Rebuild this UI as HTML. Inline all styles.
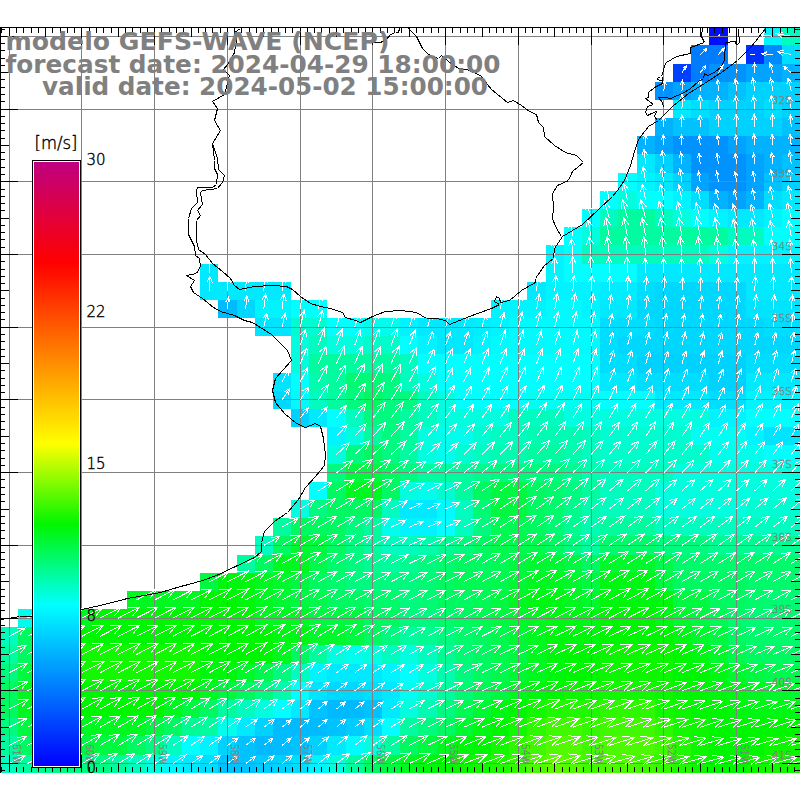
<!DOCTYPE html>
<html><head><meta charset="utf-8"><title>modelo GEFS-WAVE (NCEP)</title>
<style>html,body{margin:0;padding:0;background:#fff;width:800px;height:800px;overflow:hidden}svg{display:block}text{font-family:"Liberation Sans","DejaVu Sans",sans-serif}.t{font-family:"DejaVu Sans","Liberation Sans",sans-serif;font-weight:bold;font-size:24.3px;fill:#808080}.g,.k{font-family:"DejaVu Sans Light","DejaVu Sans","Liberation Sans",sans-serif;font-weight:200}.g{fill:#808080;font-size:10.6px;stroke:#808080;stroke-width:.3px}.k{fill:#000;font-size:15px;stroke:#000;stroke-width:.4px}</style></head><body>
<svg width="800" height="800" viewBox="0 0 800 800">
<rect width="800" height="800" fill="#fff"/>
<g shape-rendering="crispEdges">
<rect x="709" y="28" width="19" height="17" fill="#0010ff"/>
<rect x="764" y="28" width="18" height="17" fill="#00f4ff"/>
<rect x="782" y="28" width="18" height="17" fill="#00fdbf"/>
<rect x="691" y="45" width="37" height="19" fill="#007cff"/>
<rect x="746" y="45" width="18" height="19" fill="#0030ff"/>
<rect x="764" y="45" width="18" height="19" fill="#008aff"/>
<rect x="782" y="45" width="18" height="19" fill="#00deff"/>
<rect x="673" y="64" width="18" height="18" fill="#0040ff"/>
<rect x="691" y="64" width="18" height="18" fill="#007cff"/>
<rect x="709" y="64" width="37" height="18" fill="#0093ff"/>
<rect x="746" y="64" width="36" height="18" fill="#00a3ff"/>
<rect x="782" y="64" width="18" height="18" fill="#00b2ff"/>
<rect x="655" y="82" width="18" height="18" fill="#0093ff"/>
<rect x="673" y="82" width="18" height="18" fill="#00a3ff"/>
<rect x="691" y="82" width="37" height="18" fill="#00b2ff"/>
<rect x="728" y="82" width="18" height="18" fill="#00c2ff"/>
<rect x="746" y="82" width="54" height="18" fill="#00d2ff"/>
<rect x="673" y="100" width="18" height="18" fill="#00e9ff"/>
<rect x="691" y="100" width="18" height="18" fill="#00deff"/>
<rect x="709" y="100" width="55" height="18" fill="#00d2ff"/>
<rect x="764" y="100" width="18" height="18" fill="#00deff"/>
<rect x="782" y="100" width="18" height="18" fill="#00d2ff"/>
<rect x="655" y="118" width="18" height="18" fill="#00b2ff"/>
<rect x="673" y="118" width="36" height="18" fill="#00c2ff"/>
<rect x="709" y="118" width="73" height="18" fill="#00d2ff"/>
<rect x="782" y="118" width="18" height="18" fill="#00c2ff"/>
<rect x="637" y="136" width="18" height="18" fill="#00b2ff"/>
<rect x="655" y="136" width="18" height="18" fill="#00a3ff"/>
<rect x="673" y="136" width="55" height="18" fill="#0093ff"/>
<rect x="728" y="136" width="18" height="18" fill="#00a3ff"/>
<rect x="746" y="136" width="54" height="18" fill="#00b2ff"/>
<rect x="637" y="154" width="18" height="19" fill="#00e9ff"/>
<rect x="655" y="154" width="18" height="19" fill="#00d2ff"/>
<rect x="673" y="154" width="18" height="19" fill="#00b2ff"/>
<rect x="691" y="154" width="55" height="19" fill="#0093ff"/>
<rect x="746" y="154" width="18" height="19" fill="#00a3ff"/>
<rect x="764" y="154" width="18" height="19" fill="#00b2ff"/>
<rect x="782" y="154" width="18" height="19" fill="#00c2ff"/>
<rect x="618" y="173" width="19" height="18" fill="#00ffff"/>
<rect x="637" y="173" width="18" height="18" fill="#00f4ff"/>
<rect x="655" y="173" width="18" height="18" fill="#00e9ff"/>
<rect x="673" y="173" width="18" height="18" fill="#00d2ff"/>
<rect x="691" y="173" width="18" height="18" fill="#00a3ff"/>
<rect x="709" y="173" width="37" height="18" fill="#0093ff"/>
<rect x="746" y="173" width="18" height="18" fill="#00a3ff"/>
<rect x="764" y="173" width="18" height="18" fill="#00c2ff"/>
<rect x="782" y="173" width="18" height="18" fill="#00d2ff"/>
<rect x="600" y="191" width="18" height="18" fill="#00ffff"/>
<rect x="618" y="191" width="19" height="18" fill="#00fedf"/>
<rect x="637" y="191" width="36" height="18" fill="#00ffff"/>
<rect x="673" y="191" width="18" height="18" fill="#00f4ff"/>
<rect x="691" y="191" width="18" height="18" fill="#00deff"/>
<rect x="709" y="191" width="19" height="18" fill="#00b2ff"/>
<rect x="728" y="191" width="18" height="18" fill="#00a3ff"/>
<rect x="746" y="191" width="18" height="18" fill="#00b2ff"/>
<rect x="764" y="191" width="18" height="18" fill="#00deff"/>
<rect x="782" y="191" width="18" height="18" fill="#00e9ff"/>
<rect x="582" y="209" width="18" height="18" fill="#00ffff"/>
<rect x="600" y="209" width="18" height="18" fill="#00fdbf"/>
<rect x="618" y="209" width="37" height="18" fill="#00fc9f"/>
<rect x="655" y="209" width="18" height="18" fill="#00fdbf"/>
<rect x="673" y="209" width="18" height="18" fill="#00fedf"/>
<rect x="691" y="209" width="18" height="18" fill="#00ffff"/>
<rect x="709" y="209" width="19" height="18" fill="#00f4ff"/>
<rect x="728" y="209" width="36" height="18" fill="#00e9ff"/>
<rect x="764" y="209" width="18" height="18" fill="#00f4ff"/>
<rect x="782" y="209" width="18" height="18" fill="#00ffff"/>
<rect x="564" y="227" width="18" height="18" fill="#00ffff"/>
<rect x="582" y="227" width="18" height="18" fill="#00fedf"/>
<rect x="600" y="227" width="128" height="18" fill="#00fc9f"/>
<rect x="728" y="227" width="36" height="18" fill="#00fdbf"/>
<rect x="764" y="227" width="36" height="18" fill="#00ffff"/>
<rect x="546" y="245" width="18" height="19" fill="#00f4ff"/>
<rect x="564" y="245" width="18" height="19" fill="#00ffff"/>
<rect x="582" y="245" width="127" height="19" fill="#00fdbf"/>
<rect x="709" y="245" width="19" height="19" fill="#00fedf"/>
<rect x="728" y="245" width="72" height="19" fill="#00f4ff"/>
<rect x="200" y="264" width="18" height="18" fill="#00e9ff"/>
<rect x="546" y="264" width="18" height="18" fill="#00f4ff"/>
<rect x="564" y="264" width="73" height="18" fill="#00ffff"/>
<rect x="637" y="264" width="163" height="18" fill="#00e9ff"/>
<rect x="200" y="282" width="91" height="18" fill="#00e9ff"/>
<rect x="527" y="282" width="19" height="18" fill="#00e9ff"/>
<rect x="546" y="282" width="54" height="18" fill="#00f4ff"/>
<rect x="600" y="282" width="37" height="18" fill="#00edff"/>
<rect x="637" y="282" width="18" height="18" fill="#00deff"/>
<rect x="655" y="282" width="91" height="18" fill="#00d7ff"/>
<rect x="746" y="282" width="54" height="18" fill="#00e9ff"/>
<rect x="218" y="300" width="19" height="18" fill="#00bcff"/>
<rect x="237" y="300" width="18" height="18" fill="#00d7ff"/>
<rect x="255" y="300" width="36" height="18" fill="#00f4ff"/>
<rect x="291" y="300" width="36" height="18" fill="#00ffff"/>
<rect x="491" y="300" width="55" height="18" fill="#00f4ff"/>
<rect x="546" y="300" width="36" height="18" fill="#00fbff"/>
<rect x="582" y="300" width="18" height="18" fill="#00f4ff"/>
<rect x="600" y="300" width="37" height="18" fill="#00e9ff"/>
<rect x="637" y="300" width="109" height="18" fill="#00d7ff"/>
<rect x="746" y="300" width="54" height="18" fill="#00e4ff"/>
<rect x="255" y="318" width="36" height="18" fill="#00e4ff"/>
<rect x="291" y="318" width="36" height="18" fill="#00fdd2"/>
<rect x="327" y="318" width="37" height="18" fill="#00ffff"/>
<rect x="364" y="318" width="36" height="18" fill="#00feec"/>
<rect x="400" y="318" width="18" height="18" fill="#00f4ff"/>
<rect x="418" y="318" width="55" height="18" fill="#00e9ff"/>
<rect x="473" y="318" width="18" height="18" fill="#00efff"/>
<rect x="491" y="318" width="18" height="18" fill="#00f4ff"/>
<rect x="509" y="318" width="91" height="18" fill="#00fbff"/>
<rect x="600" y="318" width="55" height="18" fill="#00deff"/>
<rect x="655" y="318" width="109" height="18" fill="#00d7ff"/>
<rect x="764" y="318" width="36" height="18" fill="#00deff"/>
<rect x="291" y="336" width="18" height="18" fill="#00fedf"/>
<rect x="309" y="336" width="18" height="18" fill="#00fdbf"/>
<rect x="327" y="336" width="37" height="18" fill="#00fedf"/>
<rect x="364" y="336" width="36" height="18" fill="#00fdcc"/>
<rect x="400" y="336" width="18" height="18" fill="#00ffff"/>
<rect x="418" y="336" width="19" height="18" fill="#00f4ff"/>
<rect x="437" y="336" width="36" height="18" fill="#00e9ff"/>
<rect x="473" y="336" width="18" height="18" fill="#00f4ff"/>
<rect x="491" y="336" width="109" height="18" fill="#00fbff"/>
<rect x="600" y="336" width="18" height="18" fill="#00deff"/>
<rect x="618" y="336" width="182" height="18" fill="#00d7ff"/>
<rect x="291" y="354" width="18" height="19" fill="#00fedf"/>
<rect x="309" y="354" width="91" height="19" fill="#00fc9f"/>
<rect x="400" y="354" width="18" height="19" fill="#00fdbf"/>
<rect x="418" y="354" width="182" height="19" fill="#00ffff"/>
<rect x="600" y="354" width="37" height="19" fill="#00deff"/>
<rect x="637" y="354" width="109" height="19" fill="#00d2ff"/>
<rect x="746" y="354" width="54" height="19" fill="#00deff"/>
<rect x="273" y="373" width="18" height="18" fill="#00e4ff"/>
<rect x="291" y="373" width="18" height="18" fill="#00ffff"/>
<rect x="309" y="373" width="18" height="18" fill="#00fcac"/>
<rect x="327" y="373" width="19" height="18" fill="#00fc9f"/>
<rect x="346" y="373" width="36" height="18" fill="#00fa73"/>
<rect x="382" y="373" width="18" height="18" fill="#00fa80"/>
<rect x="400" y="373" width="18" height="18" fill="#00fdbf"/>
<rect x="418" y="373" width="19" height="18" fill="#00fedf"/>
<rect x="437" y="373" width="163" height="18" fill="#00ffff"/>
<rect x="600" y="373" width="37" height="18" fill="#00e9ff"/>
<rect x="637" y="373" width="72" height="18" fill="#00deff"/>
<rect x="709" y="373" width="37" height="18" fill="#00d2ff"/>
<rect x="746" y="373" width="54" height="18" fill="#00e9ff"/>
<rect x="273" y="391" width="18" height="18" fill="#00d9ff"/>
<rect x="291" y="391" width="18" height="18" fill="#00fbff"/>
<rect x="309" y="391" width="18" height="18" fill="#00fdbf"/>
<rect x="327" y="391" width="19" height="18" fill="#00fc9f"/>
<rect x="346" y="391" width="18" height="18" fill="#00fa80"/>
<rect x="364" y="391" width="18" height="18" fill="#00f960"/>
<rect x="382" y="391" width="36" height="18" fill="#00fa80"/>
<rect x="418" y="391" width="19" height="18" fill="#00fdbf"/>
<rect x="437" y="391" width="18" height="18" fill="#00fedf"/>
<rect x="455" y="391" width="72" height="18" fill="#00ffff"/>
<rect x="527" y="391" width="73" height="18" fill="#00fff2"/>
<rect x="600" y="391" width="55" height="18" fill="#00ffff"/>
<rect x="655" y="391" width="54" height="18" fill="#00e9ff"/>
<rect x="709" y="391" width="37" height="18" fill="#00deff"/>
<rect x="746" y="391" width="54" height="18" fill="#00f4ff"/>
<rect x="291" y="409" width="18" height="18" fill="#00d2ff"/>
<rect x="309" y="409" width="18" height="18" fill="#00e9ff"/>
<rect x="327" y="409" width="19" height="18" fill="#00ffff"/>
<rect x="346" y="409" width="18" height="18" fill="#00fdbf"/>
<rect x="364" y="409" width="36" height="18" fill="#00fa80"/>
<rect x="400" y="409" width="18" height="18" fill="#00fc9f"/>
<rect x="418" y="409" width="19" height="18" fill="#00fdbf"/>
<rect x="437" y="409" width="72" height="18" fill="#00fedf"/>
<rect x="509" y="409" width="55" height="18" fill="#00fdbf"/>
<rect x="564" y="409" width="145" height="18" fill="#00fedf"/>
<rect x="709" y="409" width="37" height="18" fill="#00f4ff"/>
<rect x="746" y="409" width="54" height="18" fill="#00ffff"/>
<rect x="327" y="427" width="19" height="18" fill="#00f4ff"/>
<rect x="346" y="427" width="18" height="18" fill="#00fedf"/>
<rect x="364" y="427" width="18" height="18" fill="#00fc9f"/>
<rect x="382" y="427" width="18" height="18" fill="#00fa80"/>
<rect x="400" y="427" width="18" height="18" fill="#00fc9f"/>
<rect x="418" y="427" width="19" height="18" fill="#00fedf"/>
<rect x="437" y="427" width="36" height="18" fill="#00feec"/>
<rect x="473" y="427" width="18" height="18" fill="#00fdd2"/>
<rect x="491" y="427" width="36" height="18" fill="#00fdbf"/>
<rect x="527" y="427" width="55" height="18" fill="#00fcb3"/>
<rect x="582" y="427" width="18" height="18" fill="#00fdbf"/>
<rect x="600" y="427" width="91" height="18" fill="#00fdd2"/>
<rect x="691" y="427" width="55" height="18" fill="#00fff2"/>
<rect x="746" y="427" width="18" height="18" fill="#00f4ff"/>
<rect x="764" y="427" width="36" height="18" fill="#00e4ff"/>
<rect x="327" y="445" width="19" height="19" fill="#00fedf"/>
<rect x="346" y="445" width="18" height="19" fill="#00fa80"/>
<rect x="364" y="445" width="18" height="19" fill="#00f960"/>
<rect x="382" y="445" width="18" height="19" fill="#00fa80"/>
<rect x="400" y="445" width="18" height="19" fill="#00fc9f"/>
<rect x="418" y="445" width="19" height="19" fill="#00fedf"/>
<rect x="437" y="445" width="18" height="19" fill="#00feec"/>
<rect x="455" y="445" width="18" height="19" fill="#00fdd2"/>
<rect x="473" y="445" width="18" height="19" fill="#00fdbf"/>
<rect x="491" y="445" width="18" height="19" fill="#00fcb3"/>
<rect x="509" y="445" width="18" height="19" fill="#00fcac"/>
<rect x="527" y="445" width="37" height="19" fill="#00fc9f"/>
<rect x="564" y="445" width="18" height="19" fill="#00fcac"/>
<rect x="582" y="445" width="18" height="19" fill="#00fdbf"/>
<rect x="600" y="445" width="109" height="19" fill="#00fdcc"/>
<rect x="709" y="445" width="55" height="19" fill="#00feec"/>
<rect x="764" y="445" width="36" height="19" fill="#00ffff"/>
<rect x="327" y="464" width="19" height="18" fill="#00fa80"/>
<rect x="346" y="464" width="36" height="18" fill="#00f840"/>
<rect x="382" y="464" width="18" height="18" fill="#00f960"/>
<rect x="400" y="464" width="18" height="18" fill="#00fa80"/>
<rect x="418" y="464" width="55" height="18" fill="#00fc9f"/>
<rect x="473" y="464" width="18" height="18" fill="#00fb8c"/>
<rect x="491" y="464" width="73" height="18" fill="#00fa80"/>
<rect x="564" y="464" width="18" height="18" fill="#00fb93"/>
<rect x="582" y="464" width="18" height="18" fill="#00fcac"/>
<rect x="600" y="464" width="73" height="18" fill="#00fdbf"/>
<rect x="673" y="464" width="127" height="18" fill="#00fedf"/>
<rect x="309" y="482" width="18" height="18" fill="#00ffff"/>
<rect x="327" y="482" width="19" height="18" fill="#00f960"/>
<rect x="346" y="482" width="36" height="18" fill="#00f720"/>
<rect x="382" y="482" width="18" height="18" fill="#00f960"/>
<rect x="400" y="482" width="18" height="18" fill="#00fedf"/>
<rect x="418" y="482" width="19" height="18" fill="#00feec"/>
<rect x="437" y="482" width="18" height="18" fill="#00fdd2"/>
<rect x="455" y="482" width="18" height="18" fill="#00fc9f"/>
<rect x="473" y="482" width="18" height="18" fill="#00f960"/>
<rect x="491" y="482" width="36" height="18" fill="#00f840"/>
<rect x="527" y="482" width="19" height="18" fill="#00f960"/>
<rect x="546" y="482" width="18" height="18" fill="#00fa6c"/>
<rect x="564" y="482" width="18" height="18" fill="#00fa80"/>
<rect x="582" y="482" width="18" height="18" fill="#00fc9f"/>
<rect x="600" y="482" width="55" height="18" fill="#00fdbf"/>
<rect x="655" y="482" width="145" height="18" fill="#00fedf"/>
<rect x="291" y="500" width="18" height="18" fill="#00fedf"/>
<rect x="309" y="500" width="18" height="18" fill="#00fa80"/>
<rect x="327" y="500" width="55" height="18" fill="#00f960"/>
<rect x="382" y="500" width="18" height="18" fill="#00fdbf"/>
<rect x="400" y="500" width="37" height="18" fill="#00e9ff"/>
<rect x="437" y="500" width="18" height="18" fill="#00fbff"/>
<rect x="455" y="500" width="18" height="18" fill="#00fdbf"/>
<rect x="473" y="500" width="18" height="18" fill="#00fa73"/>
<rect x="491" y="500" width="36" height="18" fill="#00f840"/>
<rect x="527" y="500" width="19" height="18" fill="#00f960"/>
<rect x="546" y="500" width="18" height="18" fill="#00fa6c"/>
<rect x="564" y="500" width="18" height="18" fill="#00fb8c"/>
<rect x="582" y="500" width="18" height="18" fill="#00fcac"/>
<rect x="600" y="500" width="55" height="18" fill="#00fdbf"/>
<rect x="655" y="500" width="91" height="18" fill="#00fedf"/>
<rect x="746" y="500" width="54" height="18" fill="#00fdd2"/>
<rect x="273" y="518" width="18" height="18" fill="#00fc9f"/>
<rect x="291" y="518" width="55" height="18" fill="#00f960"/>
<rect x="346" y="518" width="18" height="18" fill="#00fa80"/>
<rect x="364" y="518" width="18" height="18" fill="#00fc9f"/>
<rect x="382" y="518" width="18" height="18" fill="#00feec"/>
<rect x="400" y="518" width="37" height="18" fill="#00f4ff"/>
<rect x="437" y="518" width="18" height="18" fill="#00ffff"/>
<rect x="455" y="518" width="18" height="18" fill="#00fdbf"/>
<rect x="473" y="518" width="18" height="18" fill="#00fa80"/>
<rect x="491" y="518" width="36" height="18" fill="#00f953"/>
<rect x="527" y="518" width="19" height="18" fill="#00f960"/>
<rect x="546" y="518" width="18" height="18" fill="#00fa73"/>
<rect x="564" y="518" width="18" height="18" fill="#00fb93"/>
<rect x="582" y="518" width="18" height="18" fill="#00fcb3"/>
<rect x="600" y="518" width="55" height="18" fill="#00fc9f"/>
<rect x="655" y="518" width="145" height="18" fill="#00fdbf"/>
<rect x="255" y="536" width="18" height="19" fill="#00fdbf"/>
<rect x="273" y="536" width="18" height="19" fill="#00f960"/>
<rect x="291" y="536" width="18" height="19" fill="#00f833"/>
<rect x="309" y="536" width="18" height="19" fill="#00f840"/>
<rect x="327" y="536" width="19" height="19" fill="#00f960"/>
<rect x="346" y="536" width="18" height="19" fill="#00fa80"/>
<rect x="364" y="536" width="18" height="19" fill="#00fc9f"/>
<rect x="382" y="536" width="36" height="19" fill="#00fdbf"/>
<rect x="418" y="536" width="19" height="19" fill="#00fcac"/>
<rect x="437" y="536" width="18" height="19" fill="#00fb93"/>
<rect x="455" y="536" width="18" height="19" fill="#00fa80"/>
<rect x="473" y="536" width="18" height="19" fill="#00f960"/>
<rect x="491" y="536" width="55" height="19" fill="#00f94c"/>
<rect x="546" y="536" width="18" height="19" fill="#00f960"/>
<rect x="564" y="536" width="18" height="19" fill="#00fa80"/>
<rect x="582" y="536" width="18" height="19" fill="#00fc9f"/>
<rect x="600" y="536" width="55" height="19" fill="#00fa6c"/>
<rect x="655" y="536" width="54" height="19" fill="#00fa80"/>
<rect x="709" y="536" width="91" height="19" fill="#00fb93"/>
<rect x="237" y="555" width="18" height="18" fill="#00fc9f"/>
<rect x="255" y="555" width="18" height="18" fill="#00f960"/>
<rect x="273" y="555" width="36" height="18" fill="#00f720"/>
<rect x="309" y="555" width="18" height="18" fill="#00f94c"/>
<rect x="327" y="555" width="19" height="18" fill="#00fa6c"/>
<rect x="346" y="555" width="18" height="18" fill="#00fa80"/>
<rect x="364" y="555" width="18" height="18" fill="#00fb93"/>
<rect x="382" y="555" width="18" height="18" fill="#00fc9f"/>
<rect x="400" y="555" width="18" height="18" fill="#00fb93"/>
<rect x="418" y="555" width="19" height="18" fill="#00fa80"/>
<rect x="437" y="555" width="18" height="18" fill="#00fa6c"/>
<rect x="455" y="555" width="36" height="18" fill="#00f960"/>
<rect x="491" y="555" width="18" height="18" fill="#00f953"/>
<rect x="509" y="555" width="18" height="18" fill="#00f840"/>
<rect x="527" y="555" width="37" height="18" fill="#00f833"/>
<rect x="564" y="555" width="18" height="18" fill="#00f840"/>
<rect x="582" y="555" width="18" height="18" fill="#00f960"/>
<rect x="600" y="555" width="55" height="18" fill="#00f82d"/>
<rect x="655" y="555" width="18" height="18" fill="#00f94c"/>
<rect x="673" y="555" width="127" height="18" fill="#00fa6c"/>
<rect x="200" y="573" width="18" height="18" fill="#00f840"/>
<rect x="218" y="573" width="37" height="18" fill="#00f60d"/>
<rect x="255" y="573" width="18" height="18" fill="#00f720"/>
<rect x="273" y="573" width="18" height="18" fill="#00f82d"/>
<rect x="291" y="573" width="18" height="18" fill="#00f840"/>
<rect x="309" y="573" width="18" height="18" fill="#00f960"/>
<rect x="327" y="573" width="19" height="18" fill="#00fa6c"/>
<rect x="346" y="573" width="72" height="18" fill="#00fa80"/>
<rect x="418" y="573" width="19" height="18" fill="#00fa73"/>
<rect x="437" y="573" width="18" height="18" fill="#00f960"/>
<rect x="455" y="573" width="36" height="18" fill="#00f953"/>
<rect x="491" y="573" width="18" height="18" fill="#00f94c"/>
<rect x="509" y="573" width="18" height="18" fill="#00f833"/>
<rect x="527" y="573" width="37" height="18" fill="#00f720"/>
<rect x="564" y="573" width="18" height="18" fill="#00f82d"/>
<rect x="582" y="573" width="18" height="18" fill="#00f840"/>
<rect x="600" y="573" width="55" height="18" fill="#00f713"/>
<rect x="655" y="573" width="18" height="18" fill="#00f840"/>
<rect x="673" y="573" width="73" height="18" fill="#00f960"/>
<rect x="746" y="573" width="54" height="18" fill="#00fa6c"/>
<rect x="127" y="591" width="73" height="18" fill="#00f720"/>
<rect x="200" y="591" width="37" height="18" fill="#00f600"/>
<rect x="237" y="591" width="18" height="18" fill="#00f60d"/>
<rect x="255" y="591" width="18" height="18" fill="#00f720"/>
<rect x="273" y="591" width="18" height="18" fill="#00f833"/>
<rect x="291" y="591" width="18" height="18" fill="#00f840"/>
<rect x="309" y="591" width="18" height="18" fill="#00f94c"/>
<rect x="327" y="591" width="37" height="18" fill="#00f960"/>
<rect x="364" y="591" width="36" height="18" fill="#00fa6c"/>
<rect x="400" y="591" width="18" height="18" fill="#00fa80"/>
<rect x="418" y="591" width="19" height="18" fill="#00fa73"/>
<rect x="437" y="591" width="36" height="18" fill="#00f960"/>
<rect x="473" y="591" width="18" height="18" fill="#00f953"/>
<rect x="491" y="591" width="18" height="18" fill="#00f840"/>
<rect x="509" y="591" width="18" height="18" fill="#00f720"/>
<rect x="527" y="591" width="37" height="18" fill="#00f713"/>
<rect x="564" y="591" width="18" height="18" fill="#00f720"/>
<rect x="582" y="591" width="18" height="18" fill="#00f82d"/>
<rect x="600" y="591" width="73" height="18" fill="#00f60d"/>
<rect x="673" y="591" width="36" height="18" fill="#00f840"/>
<rect x="709" y="591" width="37" height="18" fill="#00f960"/>
<rect x="746" y="591" width="18" height="18" fill="#00fa6c"/>
<rect x="764" y="591" width="36" height="18" fill="#00fa73"/>
<rect x="18" y="609" width="18" height="18" fill="#00feec"/>
<rect x="36" y="609" width="19" height="18" fill="#00fa80"/>
<rect x="55" y="609" width="18" height="18" fill="#00f840"/>
<rect x="73" y="609" width="18" height="18" fill="#00f720"/>
<rect x="91" y="609" width="164" height="18" fill="#00f600"/>
<rect x="255" y="609" width="54" height="18" fill="#00f720"/>
<rect x="309" y="609" width="55" height="18" fill="#00f840"/>
<rect x="364" y="609" width="36" height="18" fill="#00f960"/>
<rect x="400" y="609" width="37" height="18" fill="#00fa80"/>
<rect x="437" y="609" width="18" height="18" fill="#00fa6c"/>
<rect x="455" y="609" width="18" height="18" fill="#00f960"/>
<rect x="473" y="609" width="18" height="18" fill="#00f953"/>
<rect x="491" y="609" width="18" height="18" fill="#00f840"/>
<rect x="509" y="609" width="18" height="18" fill="#00f82d"/>
<rect x="527" y="609" width="19" height="18" fill="#00f720"/>
<rect x="546" y="609" width="54" height="18" fill="#00f713"/>
<rect x="600" y="609" width="55" height="18" fill="#00f600"/>
<rect x="655" y="609" width="18" height="18" fill="#00f713"/>
<rect x="673" y="609" width="18" height="18" fill="#00f82d"/>
<rect x="691" y="609" width="18" height="18" fill="#00f840"/>
<rect x="709" y="609" width="19" height="18" fill="#00f953"/>
<rect x="728" y="609" width="18" height="18" fill="#00fa6c"/>
<rect x="746" y="609" width="36" height="18" fill="#00fa73"/>
<rect x="782" y="609" width="18" height="18" fill="#00fa6c"/>
<rect x="0" y="627" width="18" height="18" fill="#00fdbf"/>
<rect x="18" y="627" width="18" height="18" fill="#00f960"/>
<rect x="36" y="627" width="19" height="18" fill="#00f82d"/>
<rect x="55" y="627" width="18" height="18" fill="#00f60d"/>
<rect x="73" y="627" width="200" height="18" fill="#00f600"/>
<rect x="273" y="627" width="36" height="18" fill="#00f713"/>
<rect x="309" y="627" width="37" height="18" fill="#00f82d"/>
<rect x="346" y="627" width="18" height="18" fill="#00f840"/>
<rect x="364" y="627" width="18" height="18" fill="#00f960"/>
<rect x="382" y="627" width="18" height="18" fill="#00fa80"/>
<rect x="400" y="627" width="18" height="18" fill="#00fc9f"/>
<rect x="418" y="627" width="19" height="18" fill="#00fb93"/>
<rect x="437" y="627" width="18" height="18" fill="#00fa80"/>
<rect x="455" y="627" width="18" height="18" fill="#00fa6c"/>
<rect x="473" y="627" width="18" height="18" fill="#00f960"/>
<rect x="491" y="627" width="18" height="18" fill="#00f94c"/>
<rect x="509" y="627" width="18" height="18" fill="#00f833"/>
<rect x="527" y="627" width="19" height="18" fill="#00f720"/>
<rect x="546" y="627" width="54" height="18" fill="#00f60d"/>
<rect x="600" y="627" width="73" height="18" fill="#00f600"/>
<rect x="673" y="627" width="18" height="18" fill="#00f713"/>
<rect x="691" y="627" width="18" height="18" fill="#00f82d"/>
<rect x="709" y="627" width="19" height="18" fill="#00f840"/>
<rect x="728" y="627" width="18" height="18" fill="#00f960"/>
<rect x="746" y="627" width="54" height="18" fill="#00fa6c"/>
<rect x="0" y="645" width="18" height="19" fill="#00fc9f"/>
<rect x="18" y="645" width="18" height="19" fill="#00f960"/>
<rect x="36" y="645" width="19" height="19" fill="#00f720"/>
<rect x="55" y="645" width="18" height="19" fill="#00f600"/>
<rect x="73" y="645" width="127" height="19" fill="#13f700"/>
<rect x="200" y="645" width="73" height="19" fill="#00f600"/>
<rect x="273" y="645" width="18" height="19" fill="#00f720"/>
<rect x="291" y="645" width="18" height="19" fill="#00f960"/>
<rect x="309" y="645" width="18" height="19" fill="#00fc9f"/>
<rect x="327" y="645" width="19" height="19" fill="#00fedf"/>
<rect x="346" y="645" width="18" height="19" fill="#00feec"/>
<rect x="364" y="645" width="18" height="19" fill="#00fedf"/>
<rect x="382" y="645" width="18" height="19" fill="#00fdbf"/>
<rect x="400" y="645" width="18" height="19" fill="#00fedf"/>
<rect x="418" y="645" width="19" height="19" fill="#00fdbf"/>
<rect x="437" y="645" width="18" height="19" fill="#00fb93"/>
<rect x="455" y="645" width="18" height="19" fill="#00fa73"/>
<rect x="473" y="645" width="18" height="19" fill="#00f960"/>
<rect x="491" y="645" width="18" height="19" fill="#00f94c"/>
<rect x="509" y="645" width="18" height="19" fill="#00f840"/>
<rect x="527" y="645" width="19" height="19" fill="#00f720"/>
<rect x="546" y="645" width="18" height="19" fill="#00f60d"/>
<rect x="564" y="645" width="36" height="19" fill="#00f600"/>
<rect x="600" y="645" width="73" height="19" fill="#0df600"/>
<rect x="673" y="645" width="18" height="19" fill="#00f600"/>
<rect x="691" y="645" width="18" height="19" fill="#00f713"/>
<rect x="709" y="645" width="19" height="19" fill="#00f82d"/>
<rect x="728" y="645" width="18" height="19" fill="#00f94c"/>
<rect x="746" y="645" width="54" height="19" fill="#00f960"/>
<rect x="0" y="664" width="18" height="18" fill="#00fa80"/>
<rect x="18" y="664" width="18" height="18" fill="#00f840"/>
<rect x="36" y="664" width="19" height="18" fill="#00f713"/>
<rect x="55" y="664" width="18" height="18" fill="#00f600"/>
<rect x="73" y="664" width="127" height="18" fill="#13f700"/>
<rect x="200" y="664" width="37" height="18" fill="#00f60d"/>
<rect x="237" y="664" width="18" height="18" fill="#00f82d"/>
<rect x="255" y="664" width="18" height="18" fill="#00f94c"/>
<rect x="273" y="664" width="18" height="18" fill="#00fa80"/>
<rect x="291" y="664" width="18" height="18" fill="#00fdbf"/>
<rect x="309" y="664" width="18" height="18" fill="#00f4ff"/>
<rect x="327" y="664" width="55" height="18" fill="#00e9ff"/>
<rect x="382" y="664" width="18" height="18" fill="#00f4ff"/>
<rect x="400" y="664" width="18" height="18" fill="#00ffff"/>
<rect x="418" y="664" width="19" height="18" fill="#00fedf"/>
<rect x="437" y="664" width="18" height="18" fill="#00fcac"/>
<rect x="455" y="664" width="18" height="18" fill="#00fa80"/>
<rect x="473" y="664" width="18" height="18" fill="#00f960"/>
<rect x="491" y="664" width="18" height="18" fill="#00f94c"/>
<rect x="509" y="664" width="18" height="18" fill="#00f833"/>
<rect x="527" y="664" width="19" height="18" fill="#00f720"/>
<rect x="546" y="664" width="18" height="18" fill="#00f60d"/>
<rect x="564" y="664" width="36" height="18" fill="#00f600"/>
<rect x="600" y="664" width="73" height="18" fill="#0df600"/>
<rect x="673" y="664" width="36" height="18" fill="#00f600"/>
<rect x="709" y="664" width="19" height="18" fill="#00f713"/>
<rect x="728" y="664" width="18" height="18" fill="#00f82d"/>
<rect x="746" y="664" width="18" height="18" fill="#00f840"/>
<rect x="764" y="664" width="36" height="18" fill="#00f94c"/>
<rect x="0" y="682" width="18" height="18" fill="#00f960"/>
<rect x="18" y="682" width="18" height="18" fill="#00f720"/>
<rect x="36" y="682" width="19" height="18" fill="#00f60d"/>
<rect x="55" y="682" width="145" height="18" fill="#00f600"/>
<rect x="200" y="682" width="18" height="18" fill="#00f720"/>
<rect x="218" y="682" width="19" height="18" fill="#00f840"/>
<rect x="237" y="682" width="18" height="18" fill="#00f960"/>
<rect x="255" y="682" width="18" height="18" fill="#00fa80"/>
<rect x="273" y="682" width="18" height="18" fill="#00fcac"/>
<rect x="291" y="682" width="18" height="18" fill="#00ffff"/>
<rect x="309" y="682" width="18" height="18" fill="#00e4ff"/>
<rect x="327" y="682" width="37" height="18" fill="#00d9ff"/>
<rect x="364" y="682" width="18" height="18" fill="#00deff"/>
<rect x="382" y="682" width="18" height="18" fill="#00e9ff"/>
<rect x="400" y="682" width="18" height="18" fill="#00fff2"/>
<rect x="418" y="682" width="19" height="18" fill="#00fdd2"/>
<rect x="437" y="682" width="18" height="18" fill="#00fc9f"/>
<rect x="455" y="682" width="18" height="18" fill="#00fa73"/>
<rect x="473" y="682" width="18" height="18" fill="#00f953"/>
<rect x="491" y="682" width="18" height="18" fill="#00f840"/>
<rect x="509" y="682" width="18" height="18" fill="#00f720"/>
<rect x="527" y="682" width="19" height="18" fill="#00f60d"/>
<rect x="546" y="682" width="18" height="18" fill="#00f600"/>
<rect x="564" y="682" width="36" height="18" fill="#0df600"/>
<rect x="600" y="682" width="55" height="18" fill="#13f700"/>
<rect x="655" y="682" width="18" height="18" fill="#0df600"/>
<rect x="673" y="682" width="36" height="18" fill="#00f600"/>
<rect x="709" y="682" width="19" height="18" fill="#00f60d"/>
<rect x="728" y="682" width="18" height="18" fill="#00f713"/>
<rect x="746" y="682" width="18" height="18" fill="#00f720"/>
<rect x="764" y="682" width="36" height="18" fill="#00f82d"/>
<rect x="0" y="700" width="18" height="18" fill="#00f960"/>
<rect x="18" y="700" width="18" height="18" fill="#00f720"/>
<rect x="36" y="700" width="19" height="18" fill="#00f60d"/>
<rect x="55" y="700" width="109" height="18" fill="#00f600"/>
<rect x="164" y="700" width="18" height="18" fill="#00f720"/>
<rect x="182" y="700" width="18" height="18" fill="#00f840"/>
<rect x="200" y="700" width="18" height="18" fill="#00f960"/>
<rect x="218" y="700" width="19" height="18" fill="#00fc9f"/>
<rect x="237" y="700" width="18" height="18" fill="#00fdbf"/>
<rect x="255" y="700" width="18" height="18" fill="#00fedf"/>
<rect x="273" y="700" width="18" height="18" fill="#00ffff"/>
<rect x="291" y="700" width="18" height="18" fill="#00e9ff"/>
<rect x="309" y="700" width="18" height="18" fill="#00c2ff"/>
<rect x="327" y="700" width="37" height="18" fill="#00b9ff"/>
<rect x="364" y="700" width="18" height="18" fill="#00c2ff"/>
<rect x="382" y="700" width="18" height="18" fill="#00e9ff"/>
<rect x="400" y="700" width="18" height="18" fill="#00fedf"/>
<rect x="418" y="700" width="19" height="18" fill="#00fcb3"/>
<rect x="437" y="700" width="18" height="18" fill="#00fa80"/>
<rect x="455" y="700" width="18" height="18" fill="#00f953"/>
<rect x="473" y="700" width="18" height="18" fill="#00f833"/>
<rect x="491" y="700" width="18" height="18" fill="#00f713"/>
<rect x="509" y="700" width="18" height="18" fill="#00f600"/>
<rect x="527" y="700" width="19" height="18" fill="#13f700"/>
<rect x="546" y="700" width="54" height="18" fill="#20f700"/>
<rect x="600" y="700" width="55" height="18" fill="#2df800"/>
<rect x="655" y="700" width="18" height="18" fill="#13f700"/>
<rect x="673" y="700" width="18" height="18" fill="#0df600"/>
<rect x="691" y="700" width="37" height="18" fill="#00f600"/>
<rect x="728" y="700" width="18" height="18" fill="#00f60d"/>
<rect x="746" y="700" width="54" height="18" fill="#00f713"/>
<rect x="0" y="718" width="18" height="18" fill="#00fa80"/>
<rect x="18" y="718" width="18" height="18" fill="#00f840"/>
<rect x="36" y="718" width="19" height="18" fill="#00f82d"/>
<rect x="55" y="718" width="91" height="18" fill="#00f720"/>
<rect x="146" y="718" width="18" height="18" fill="#00f840"/>
<rect x="164" y="718" width="18" height="18" fill="#00f960"/>
<rect x="182" y="718" width="18" height="18" fill="#00fb93"/>
<rect x="200" y="718" width="18" height="18" fill="#00fc9f"/>
<rect x="218" y="718" width="19" height="18" fill="#00feec"/>
<rect x="237" y="718" width="18" height="18" fill="#00e9ff"/>
<rect x="255" y="718" width="18" height="18" fill="#00d2ff"/>
<rect x="273" y="718" width="18" height="18" fill="#00bcff"/>
<rect x="291" y="718" width="18" height="18" fill="#00b9ff"/>
<rect x="309" y="718" width="18" height="18" fill="#00bcff"/>
<rect x="327" y="718" width="19" height="18" fill="#00c2ff"/>
<rect x="346" y="718" width="18" height="18" fill="#00ccff"/>
<rect x="364" y="718" width="18" height="18" fill="#00deff"/>
<rect x="382" y="718" width="18" height="18" fill="#00ffff"/>
<rect x="400" y="718" width="18" height="18" fill="#00fc9f"/>
<rect x="418" y="718" width="19" height="18" fill="#00fa80"/>
<rect x="437" y="718" width="18" height="18" fill="#00f960"/>
<rect x="455" y="718" width="18" height="18" fill="#00f833"/>
<rect x="473" y="718" width="18" height="18" fill="#00f713"/>
<rect x="491" y="718" width="18" height="18" fill="#00f600"/>
<rect x="509" y="718" width="18" height="18" fill="#13f700"/>
<rect x="527" y="718" width="19" height="18" fill="#2df800"/>
<rect x="546" y="718" width="36" height="18" fill="#40f800"/>
<rect x="582" y="718" width="18" height="18" fill="#33f800"/>
<rect x="600" y="718" width="55" height="18" fill="#40f800"/>
<rect x="655" y="718" width="18" height="18" fill="#2df800"/>
<rect x="673" y="718" width="18" height="18" fill="#13f700"/>
<rect x="691" y="718" width="18" height="18" fill="#0df600"/>
<rect x="709" y="718" width="91" height="18" fill="#00f600"/>
<rect x="0" y="736" width="18" height="19" fill="#00fc9f"/>
<rect x="18" y="736" width="18" height="19" fill="#00f960"/>
<rect x="36" y="736" width="19" height="19" fill="#00f94c"/>
<rect x="55" y="736" width="72" height="19" fill="#00f840"/>
<rect x="127" y="736" width="19" height="19" fill="#00f960"/>
<rect x="146" y="736" width="18" height="19" fill="#00fa80"/>
<rect x="164" y="736" width="18" height="19" fill="#00fdbf"/>
<rect x="182" y="736" width="18" height="19" fill="#00ffff"/>
<rect x="200" y="736" width="18" height="19" fill="#00f4ff"/>
<rect x="218" y="736" width="19" height="19" fill="#00d2ff"/>
<rect x="237" y="736" width="18" height="19" fill="#00c2ff"/>
<rect x="255" y="736" width="18" height="19" fill="#00b9ff"/>
<rect x="273" y="736" width="18" height="19" fill="#00bcff"/>
<rect x="291" y="736" width="18" height="19" fill="#00c2ff"/>
<rect x="309" y="736" width="18" height="19" fill="#00d2ff"/>
<rect x="327" y="736" width="19" height="19" fill="#00e9ff"/>
<rect x="346" y="736" width="18" height="19" fill="#00fbff"/>
<rect x="364" y="736" width="18" height="19" fill="#00fedf"/>
<rect x="382" y="736" width="18" height="19" fill="#00fc9f"/>
<rect x="400" y="736" width="18" height="19" fill="#00f960"/>
<rect x="418" y="736" width="19" height="19" fill="#00f840"/>
<rect x="437" y="736" width="18" height="19" fill="#00f720"/>
<rect x="455" y="736" width="18" height="19" fill="#00f60d"/>
<rect x="473" y="736" width="18" height="19" fill="#00f600"/>
<rect x="491" y="736" width="18" height="19" fill="#13f700"/>
<rect x="509" y="736" width="18" height="19" fill="#2df800"/>
<rect x="527" y="736" width="19" height="19" fill="#40f800"/>
<rect x="546" y="736" width="36" height="19" fill="#53f900"/>
<rect x="582" y="736" width="18" height="19" fill="#40f800"/>
<rect x="600" y="736" width="55" height="19" fill="#4cf900"/>
<rect x="655" y="736" width="18" height="19" fill="#40f800"/>
<rect x="673" y="736" width="18" height="19" fill="#20f700"/>
<rect x="691" y="736" width="18" height="19" fill="#0df600"/>
<rect x="709" y="736" width="55" height="19" fill="#00f600"/>
<rect x="764" y="736" width="36" height="19" fill="#0df600"/>
<rect x="0" y="755" width="18" height="18" fill="#00fdbf"/>
<rect x="18" y="755" width="18" height="18" fill="#00fc9f"/>
<rect x="36" y="755" width="19" height="18" fill="#00fb8c"/>
<rect x="55" y="755" width="54" height="18" fill="#00fa80"/>
<rect x="109" y="755" width="18" height="18" fill="#00fc9f"/>
<rect x="127" y="755" width="19" height="18" fill="#00fdbf"/>
<rect x="146" y="755" width="18" height="18" fill="#00fedf"/>
<rect x="164" y="755" width="18" height="18" fill="#00f4ff"/>
<rect x="182" y="755" width="18" height="18" fill="#00e9ff"/>
<rect x="200" y="755" width="18" height="18" fill="#00deff"/>
<rect x="218" y="755" width="37" height="18" fill="#00c2ff"/>
<rect x="255" y="755" width="18" height="18" fill="#00ccff"/>
<rect x="273" y="755" width="18" height="18" fill="#00d2ff"/>
<rect x="291" y="755" width="18" height="18" fill="#00deff"/>
<rect x="309" y="755" width="18" height="18" fill="#00f4ff"/>
<rect x="327" y="755" width="19" height="18" fill="#00fedf"/>
<rect x="346" y="755" width="18" height="18" fill="#00fc9f"/>
<rect x="364" y="755" width="18" height="18" fill="#00f960"/>
<rect x="382" y="755" width="18" height="18" fill="#00f840"/>
<rect x="400" y="755" width="18" height="18" fill="#00f720"/>
<rect x="418" y="755" width="19" height="18" fill="#00f60d"/>
<rect x="437" y="755" width="18" height="18" fill="#00f600"/>
<rect x="455" y="755" width="18" height="18" fill="#0df600"/>
<rect x="473" y="755" width="18" height="18" fill="#13f700"/>
<rect x="491" y="755" width="18" height="18" fill="#20f700"/>
<rect x="509" y="755" width="18" height="18" fill="#33f800"/>
<rect x="527" y="755" width="19" height="18" fill="#4cf900"/>
<rect x="546" y="755" width="18" height="18" fill="#60f900"/>
<rect x="564" y="755" width="18" height="18" fill="#53f900"/>
<rect x="582" y="755" width="18" height="18" fill="#40f800"/>
<rect x="600" y="755" width="37" height="18" fill="#4cf900"/>
<rect x="637" y="755" width="18" height="18" fill="#40f800"/>
<rect x="655" y="755" width="18" height="18" fill="#33f800"/>
<rect x="673" y="755" width="18" height="18" fill="#20f700"/>
<rect x="691" y="755" width="18" height="18" fill="#0df600"/>
<rect x="709" y="755" width="37" height="18" fill="#00f600"/>
<rect x="746" y="755" width="18" height="18" fill="#0df600"/>
<rect x="764" y="755" width="36" height="18" fill="#13f700"/>
</g>
<g stroke="#808080" stroke-width="1" shape-rendering="crispEdges">
<line x1="9.5" y1="28" x2="9.5" y2="772"/>
<line x1="81.5" y1="28" x2="81.5" y2="772"/>
<line x1="154.5" y1="28" x2="154.5" y2="772"/>
<line x1="227.5" y1="28" x2="227.5" y2="772"/>
<line x1="300.5" y1="28" x2="300.5" y2="772"/>
<line x1="372.5" y1="28" x2="372.5" y2="772"/>
<line x1="445.5" y1="28" x2="445.5" y2="772"/>
<line x1="518.5" y1="28" x2="518.5" y2="772"/>
<line x1="591.5" y1="28" x2="591.5" y2="772"/>
<line x1="663.5" y1="28" x2="663.5" y2="772"/>
<line x1="736.5" y1="28" x2="736.5" y2="772"/>
<line x1="0" y1="36.5" x2="800" y2="36.5"/>
<line x1="0" y1="109.5" x2="800" y2="109.5"/>
<line x1="0" y1="181.5" x2="800" y2="181.5"/>
<line x1="0" y1="254.5" x2="800" y2="254.5"/>
<line x1="0" y1="327.5" x2="800" y2="327.5"/>
<line x1="0" y1="399.5" x2="800" y2="399.5"/>
<line x1="0" y1="472.5" x2="800" y2="472.5"/>
<line x1="0" y1="545.5" x2="800" y2="545.5"/>
<line x1="0" y1="618.5" x2="800" y2="618.5"/>
<line x1="0" y1="690.5" x2="800" y2="690.5"/>
<line x1="0" y1="763.5" x2="800" y2="763.5"/>
</g>
<clipPath id="pc"><rect x="0" y="28" width="800" height="745"/></clipPath>
<path clip-path="url(#pc)" d="M718.4 36.3L719.4 34.6M718.6 35.1L719.4 34.6L719.3 35.5M773.0 36.3L759.1 34.4M764.7 37.9L759.1 34.4L765.4 32.5M791.2 36.3L776.4 33.7M782.2 37.7L776.4 33.7L783.2 31.9M700.2 54.5L706.9 48.5M702.9 49.7L706.9 48.5L705.2 52.3M718.4 54.5L724.4 47.8M720.6 49.5L724.4 47.8L723.2 51.8M754.8 54.5L750.8 54.5M752.5 55.3L750.8 54.5L752.5 53.7M773.0 54.5L762.0 53.7M766.5 56.2L762.0 53.7L766.8 51.9M791.2 54.5L777.5 51.6M782.8 55.5L777.5 51.6L783.9 50.1M682.0 72.7L686.3 65.9M683.1 68.0L686.3 65.9L685.8 69.6M700.2 72.7L705.8 65.6M702.0 67.5L705.8 65.6L704.8 69.7M718.4 72.7L723.2 65.0M719.7 67.4L723.2 65.0L722.6 69.2M736.6 72.7L736.6 69.7M736.0 70.9L736.6 69.7L737.2 70.9M754.8 72.7L754.4 62.7M752.6 67.0L754.4 62.7L756.5 66.9M773.0 72.7L769.9 63.2M769.3 67.8L769.9 63.2L773.1 66.6M791.2 72.7L783.5 66.2M785.5 70.5L783.5 66.2L788.0 67.5M663.9 90.8L664.6 80.4M662.3 84.7L664.6 80.4L666.3 85.0M682.0 90.8L682.4 80.4M680.2 84.8L682.4 80.4L684.3 84.9M700.2 90.8L700.1 79.6M697.9 84.5L700.1 79.6L702.3 84.4M718.4 90.8L717.7 79.7M715.8 84.6L717.7 79.7L720.2 84.3M736.6 90.8L735.3 78.7M733.5 84.2L735.3 78.7L738.2 83.7M754.8 90.8L752.8 77.8M751.1 83.8L752.8 77.8L756.2 83.0M773.0 90.8L770.4 77.9M769.0 83.9L770.4 77.9L774.0 82.9M791.2 90.8L788.0 78.0M786.9 84.1L788.0 78.0L791.9 82.9M682.0 109.0L682.1 94.4M679.2 100.7L682.1 94.4L684.9 100.7M700.2 109.0L699.9 95.1M697.4 101.1L699.9 95.1L702.8 101.0M718.4 109.0L717.8 95.8M715.5 101.6L717.8 95.8L720.6 101.4M736.6 109.0L735.7 95.9M733.5 101.7L735.7 95.9L738.6 101.3M754.8 109.0L753.5 95.9M751.5 101.8L753.5 95.9L756.6 101.3M773.0 109.0L771.3 95.2M769.3 101.5L771.3 95.2L774.7 100.8M791.2 109.0L789.2 96.0M787.5 101.9L789.2 96.0L792.6 101.2M663.9 127.2L663.7 116.0M661.6 120.8L663.7 116.0L665.9 120.8M682.0 127.2L681.8 115.0M679.5 120.3L681.8 115.0L684.3 120.2M700.2 127.2L699.9 115.0M697.7 120.3L699.9 115.0L702.4 120.2M718.4 127.2L718.0 114.0M715.6 119.7L718.0 114.0L720.7 119.6M736.6 127.2L736.1 114.0M733.8 119.8L736.1 114.0L738.9 119.6M754.8 127.2L754.2 114.0M751.9 119.8L754.2 114.0L757.0 119.6M773.0 127.2L772.3 114.0M770.0 119.8L772.3 114.0L775.2 119.5M791.2 127.2L790.5 115.0M788.4 120.4L790.5 115.0L793.2 120.1M645.7 145.4L645.0 134.2M643.1 139.1L645.0 134.2L647.5 138.9M663.9 145.4L663.2 134.9M661.4 139.5L663.2 134.9L665.5 139.3M682.0 145.4L681.3 134.9M679.6 139.5L681.3 134.9L683.7 139.3M700.2 145.4L699.5 134.9M697.7 139.6L699.5 134.9L701.8 139.3M718.4 145.4L717.6 134.9M715.9 139.6L717.6 134.9L720.0 139.2M736.6 145.4L735.8 134.9M734.1 139.6L735.8 134.9L738.2 139.2M754.8 145.4L753.8 134.2M752.1 139.2L753.8 134.2L756.4 138.8M773.0 145.4L772.0 134.2M770.2 139.2L772.0 134.2L774.6 138.8M791.2 145.4L790.1 134.2M788.4 139.2L790.1 134.2L792.7 138.8M645.7 163.6L644.0 149.1M641.9 155.6L644.0 149.1L647.5 154.9M663.9 163.6L662.3 150.5M660.4 156.4L662.3 150.5L665.5 155.8M682.0 163.6L680.7 152.5M679.1 157.5L680.7 152.5L683.5 157.0M700.2 163.6L699.0 153.2M697.5 157.9L699.0 153.2L701.5 157.4M718.4 163.6L717.1 153.2M715.7 157.9L717.1 153.2L719.7 157.4M736.6 163.6L735.3 153.2M733.8 157.9L735.3 153.2L737.9 157.4M754.8 163.6L753.5 153.2M752.0 157.9L753.5 153.2L756.1 157.4M773.0 163.6L771.5 152.5M770.0 157.5L771.5 152.5L774.3 156.9M791.2 163.6L789.6 151.5M787.9 157.0L789.6 151.5L792.6 156.3M627.5 181.8L624.8 166.0M622.9 173.3L624.8 166.0L629.0 172.2M645.7 181.8L643.1 166.7M641.3 173.6L643.1 166.7L647.2 172.6M663.9 181.8L661.4 167.4M659.7 174.0L661.4 167.4L665.3 173.0M682.0 181.8L679.8 168.7M678.2 174.7L679.8 168.7L683.3 173.9M700.2 181.8L698.5 171.4M697.2 176.2L698.5 171.4L701.2 175.5M718.4 181.8L716.7 171.4M715.4 176.2L716.7 171.4L719.4 175.5M736.6 181.8L734.8 171.4M733.6 176.2L734.8 171.4L737.6 175.5M754.8 181.8L753.0 171.4M751.8 176.2L753.0 171.4L755.8 175.5M773.0 181.8L770.9 169.7M769.5 175.3L770.9 169.7L774.2 174.5M791.2 181.8L789.0 168.7M787.4 174.7L789.0 168.7L792.4 173.9M609.3 199.9L605.8 184.3M604.2 191.7L605.8 184.3L610.3 190.3M627.5 199.9L623.8 183.4M622.1 191.2L623.8 183.4L628.6 189.7M645.7 199.9L642.2 184.3M640.6 191.7L642.2 184.3L646.7 190.3M663.9 199.9L660.4 184.3M658.8 191.7L660.4 184.3L664.9 190.3M682.0 199.9L678.8 185.0M677.3 192.0L678.8 185.0L683.1 190.7M700.2 199.9L697.3 186.4M695.9 192.7L697.3 186.4L701.2 191.6M718.4 199.9L716.0 189.0M714.9 194.1L716.0 189.0L719.2 193.2M736.6 199.9L734.4 189.7M733.3 194.5L734.4 189.7L737.3 193.6M754.8 199.9L752.5 189.0M751.3 194.1L752.5 189.0L755.6 193.2M773.0 199.9L770.1 186.3M768.7 192.7L770.1 186.3L774.0 191.6M791.2 199.9L788.2 185.7M786.7 192.3L788.2 185.7L792.2 191.2M591.1 218.1L586.8 202.7M585.6 210.1L586.8 202.7L591.7 208.5M609.3 218.1L604.3 200.8M603.1 209.2L604.3 200.8L609.8 207.3M627.5 218.1L622.3 199.8M621.0 208.7L622.3 199.8L628.1 206.7M645.7 218.1L640.6 199.8M639.2 208.6L640.6 199.8L646.3 206.7M663.9 218.1L659.1 200.8M657.7 209.1L659.1 200.8L664.5 207.3M682.0 218.1L677.6 201.7M676.3 209.6L677.6 201.7L682.7 207.9M700.2 218.1L696.1 202.7M694.8 210.1L696.1 202.7L700.9 208.5M718.4 218.1L714.5 203.3M713.3 210.4L714.5 203.3L719.1 208.9M736.6 218.1L732.9 204.0M731.7 210.8L732.9 204.0L737.2 209.3M754.8 218.1L751.2 204.0M750.0 210.7L751.2 204.0L755.5 209.3M773.0 218.1L769.2 203.3M767.9 210.4L769.2 203.3L773.7 208.9M791.2 218.1L787.3 202.6M785.9 210.0L787.3 202.6L792.0 208.5M572.9 236.3L570.0 220.6M568.2 227.9L570.0 220.6L574.3 226.7M591.1 236.3L587.9 219.6M586.0 227.4L587.9 219.6L592.6 226.1M609.3 236.3L605.6 217.7M603.6 226.4L605.6 217.7L610.8 224.9M627.5 236.3L623.8 217.7M621.8 226.3L623.8 217.7L629.0 224.9M645.7 236.3L642.1 217.7M640.0 226.3L642.1 217.7L647.2 224.9M663.9 236.3L660.3 217.6M658.2 226.3L660.3 217.6L665.5 224.9M682.0 236.3L678.5 217.6M676.4 226.3L678.5 217.6L683.7 224.9M700.2 236.3L696.7 217.6M694.6 226.3L696.7 217.6L701.9 224.9M718.4 236.3L715.0 217.6M712.8 226.3L715.0 217.6L720.1 224.9M736.6 236.3L733.4 218.6M731.3 226.8L733.4 218.6L738.2 225.5M754.8 236.3L751.6 218.6M749.5 226.8L751.6 218.6L756.4 225.5M773.0 236.3L770.2 220.6M768.3 227.8L770.2 220.6L774.4 226.7M791.2 236.3L788.4 220.6M786.5 227.8L788.4 220.6L792.6 226.7M554.8 254.5L553.4 239.3M551.0 246.0L553.4 239.3L556.9 245.5M572.9 254.5L571.4 238.6M568.9 245.7L571.4 238.6L575.2 245.1M591.1 254.5L589.2 236.6M586.6 244.6L589.2 236.6L593.5 243.9M609.3 254.5L607.3 236.6M604.7 244.6L607.3 236.6L611.6 243.9M627.5 254.5L625.5 236.6M622.9 244.6L625.5 236.6L629.8 243.9M645.7 254.5L643.7 236.6M641.1 244.6L643.7 236.6L648.0 243.9M663.9 254.5L661.9 236.6M659.2 244.6L661.9 236.6L666.2 243.9M682.0 254.5L680.1 236.6M677.4 244.6L680.1 236.6L684.4 243.9M700.2 254.5L698.3 236.6M695.6 244.6L698.3 236.6L702.6 243.9M718.4 254.5L716.6 237.6M714.1 245.2L716.6 237.6L720.7 244.5M736.6 254.5L735.0 239.3M732.7 246.1L735.0 239.3L738.6 245.5M754.8 254.5L753.2 239.3M750.9 246.1L753.2 239.3L756.8 245.5M773.0 254.5L771.4 239.3M769.1 246.1L771.4 239.3L775.0 245.5M791.2 254.5L789.6 239.3M787.3 246.1L789.6 239.3L793.2 245.5M209.2 272.7L209.3 258.1M206.4 264.3L209.3 258.1L212.1 264.3M554.8 272.7L554.7 257.4M551.7 263.9L554.7 257.4L557.7 263.9M572.9 272.7L572.8 256.7M569.7 263.6L572.8 256.7L575.9 263.5M591.1 272.7L590.8 256.7M587.8 263.6L590.8 256.7L594.1 263.5M609.3 272.7L608.9 256.7M605.9 263.6L608.9 256.7L612.2 263.4M627.5 272.7L627.0 256.7M624.1 263.6L627.0 256.7L630.3 263.4M645.7 272.7L645.2 258.1M642.6 264.4L645.2 258.1L648.3 264.2M663.9 272.7L663.4 258.1M660.8 264.4L663.4 258.1L666.5 264.2M682.0 272.7L681.6 258.1M678.9 264.4L681.6 258.1L684.6 264.2M700.2 272.7L699.8 258.1M697.1 264.4L699.8 258.1L702.8 264.2M718.4 272.7L717.9 258.1M715.3 264.4L717.9 258.1L721.0 264.2M736.6 272.7L736.1 258.1M733.5 264.4L736.1 258.1L739.2 264.2M754.8 272.7L754.3 258.1M751.7 264.4L754.3 258.1L757.3 264.2M773.0 272.7L772.5 258.1M769.8 264.4L772.5 258.1L775.5 264.2M791.2 272.7L790.6 258.1M788.0 264.4L790.6 258.1L793.7 264.2M209.2 290.9L209.8 276.3M206.7 282.4L209.8 276.3L212.4 282.6M227.4 290.9L228.1 276.3M225.0 282.4L228.1 276.3L230.7 282.6M245.6 290.9L246.5 276.3M243.3 282.3L246.5 276.3L248.9 282.7M263.8 290.9L264.8 276.3M261.5 282.3L264.8 276.3L267.2 282.7M282.0 290.9L283.1 276.3M279.8 282.3L283.1 276.3L285.5 282.8M536.6 290.9L537.9 276.3M534.5 282.3L537.9 276.3L540.2 282.8M554.8 290.9L556.0 275.6M552.5 281.9L556.0 275.6L558.4 282.4M572.9 290.9L574.1 275.6M570.6 281.9L574.1 275.6L576.6 282.3M591.1 290.9L592.1 275.6M588.7 281.9L592.1 275.6L594.7 282.3M609.3 290.9L610.1 276.0M606.9 282.2L610.1 276.0L612.7 282.5M627.5 290.9L628.3 276.0M625.1 282.2L628.3 276.0L630.8 282.5M645.7 290.9L646.4 277.0M643.4 282.8L646.4 277.0L648.8 283.1M663.9 290.9L664.5 277.4M661.6 283.0L664.5 277.4L666.9 283.3M682.0 290.9L682.7 277.4M679.8 283.0L682.7 277.4L685.0 283.3M700.2 290.9L700.8 277.4M698.0 283.0L700.8 277.4L703.2 283.3M718.4 290.9L719.0 277.4M716.1 283.0L719.0 277.4L721.4 283.3M736.6 290.9L737.2 277.4M734.3 283.0L737.2 277.4L739.5 283.3M754.8 290.9L755.4 276.3M752.3 282.4L755.4 276.3L758.0 282.6M773.0 290.9L773.5 276.3M770.4 282.4L773.5 276.3L776.1 282.6M791.2 290.9L791.7 276.3M788.6 282.4L791.7 276.3L794.3 282.6M227.4 309.0L228.4 297.3M225.7 302.1L228.4 297.3L230.3 302.5M245.6 309.0L247.0 295.6M243.8 301.1L247.0 295.6L249.0 301.6M263.8 309.0L265.6 293.8M261.9 300.0L265.6 293.8L267.8 300.7M282.0 309.0L284.0 293.9M280.2 300.0L284.0 293.9L286.1 300.8M300.2 309.0L302.5 293.2M298.4 299.5L302.5 293.2L304.6 300.4M318.3 309.0L321.0 293.3M316.8 299.5L321.0 293.3L322.9 300.5M500.2 309.0L503.2 294.0M499.0 299.9L503.2 294.0L504.8 301.0M518.4 309.0L521.2 294.0M517.1 299.9L521.2 294.0L522.9 301.0M536.6 309.0L539.3 294.0M535.2 299.9L539.3 294.0L541.0 300.9M554.8 309.0L557.4 293.5M553.2 299.7L557.4 293.5L559.3 300.7M572.9 309.0L575.4 293.5M571.3 299.7L575.4 293.5L577.4 300.6M591.1 309.0L593.4 293.9M589.5 299.9L593.4 293.9L595.4 300.8M609.3 309.0L611.3 294.6M607.6 300.4L611.3 294.6L613.3 301.2M627.5 309.0L629.5 294.6M625.8 300.4L629.5 294.6L631.4 301.1M645.7 309.0L647.5 295.7M644.1 301.0L647.5 295.7L649.3 301.7M663.9 309.0L665.6 295.7M662.2 301.0L665.6 295.7L667.5 301.7M682.0 309.0L683.7 295.7M680.4 301.1L683.7 295.7L685.6 301.7M700.2 309.0L701.9 295.7M698.6 301.1L701.9 295.7L703.8 301.7M718.4 309.0L720.0 295.7M716.7 301.1L720.0 295.7L721.9 301.7M736.6 309.0L738.1 295.6M734.9 301.1L738.1 295.6L740.1 301.7M754.8 309.0L756.4 294.8M752.9 300.6L756.4 294.8L758.5 301.2M773.0 309.0L774.5 294.8M771.1 300.6L774.5 294.8L776.6 301.2M791.2 309.0L792.7 294.8M789.2 300.6L792.7 294.8L794.8 301.2M263.8 327.2L266.8 313.2M262.8 318.6L266.8 313.2L268.3 319.8M282.0 327.2L285.2 313.3M281.1 318.6L285.2 313.3L286.5 319.9M300.2 327.2L304.2 310.3M299.2 316.7L304.2 310.3L305.8 318.3M318.3 327.2L322.6 310.4M317.5 316.7L322.6 310.4L324.1 318.4M336.5 327.2L340.6 311.8M335.9 317.6L340.6 311.8L341.9 319.2M354.7 327.2L359.0 311.8M354.2 317.6L359.0 311.8L360.2 319.2M372.9 327.2L377.5 311.3M372.5 317.2L377.5 311.3L378.7 319.0M391.1 327.2L395.9 311.3M390.8 317.2L395.9 311.3L396.9 319.1M409.3 327.2L413.9 312.6M409.1 318.0L413.9 312.6L414.8 319.8M427.5 327.2L431.7 313.3M427.2 318.4L431.7 313.3L432.6 320.1M445.6 327.2L449.8 313.2M445.3 318.4L449.8 313.2L450.7 320.0M463.8 327.2L467.8 313.2M463.4 318.4L467.8 313.2L468.9 320.0M482.0 327.2L486.0 312.7M481.5 318.2L486.0 312.7L487.1 319.7M500.2 327.2L504.1 312.4M499.6 318.0L504.1 312.4L505.3 319.5M518.4 327.2L522.3 312.0M517.6 317.7L522.3 312.0L523.6 319.3M536.6 327.2L540.3 312.0M535.7 317.8L540.3 312.0L541.7 319.2M554.8 327.2L558.3 311.9M553.8 317.8L558.3 311.9L559.8 319.2M572.9 327.2L576.4 311.9M571.9 317.8L576.4 311.9L577.9 319.1M591.1 327.2L594.4 311.9M590.0 317.8L594.4 311.9L596.0 319.1M609.3 327.2L612.1 313.6M608.3 318.9L612.1 313.6L613.6 320.0M627.5 327.2L630.2 313.6M626.4 318.9L630.2 313.6L631.7 320.0M645.7 327.2L648.4 313.6M644.6 318.9L648.4 313.6L649.9 319.9M663.9 327.2L666.4 314.0M662.7 319.1L666.4 314.0L667.9 320.1M682.0 327.2L684.5 314.0M680.9 319.2L684.5 314.0L686.1 320.1M700.2 327.2L702.7 314.0M699.0 319.2L702.7 314.0L704.2 320.1M718.4 327.2L720.8 314.0M717.2 319.2L720.8 314.0L722.4 320.1M736.6 327.2L738.9 313.9M735.3 319.2L738.9 313.9L740.5 320.1M754.8 327.2L757.1 313.9M753.5 319.2L757.1 313.9L758.7 320.1M773.0 327.2L775.2 313.5M771.6 318.9L775.2 313.5L776.9 319.8M791.2 327.2L793.4 313.5M789.8 318.9L793.4 313.5L795.1 319.8M300.2 345.4L305.6 329.3M300.1 335.1L305.6 329.3L306.4 337.2M318.3 345.4L324.2 328.4M318.4 334.5L324.2 328.4L325.0 336.8M336.5 345.4L342.2 329.4M336.6 335.1L342.2 329.4L342.9 337.3M354.7 345.4L360.5 329.4M354.9 335.1L360.5 329.4L361.1 337.4M372.9 345.4L379.0 328.9M373.2 334.8L379.0 328.9L379.6 337.1M391.1 345.4L397.3 328.9M391.4 334.8L397.3 328.9L397.9 337.2M409.3 345.4L415.1 330.5M409.7 335.7L415.1 330.5L415.5 338.0M427.5 345.4L432.9 331.1M427.8 336.2L432.9 331.1L433.3 338.3M445.6 345.4L450.7 331.7M445.8 336.6L450.7 331.7L451.2 338.5M463.8 345.4L468.7 331.6M463.9 336.6L468.7 331.6L469.3 338.5M482.0 345.4L487.0 330.9M482.0 336.2L487.0 330.9L487.7 338.1M500.2 345.4L505.2 330.5M500.1 335.9L505.2 330.5L506.0 337.8M518.4 345.4L523.2 330.4M518.2 335.9L523.2 330.4L524.1 337.8M536.6 345.4L541.3 330.4M536.3 335.9L541.3 330.4L542.2 337.7M554.8 345.4L559.3 330.4M554.4 335.9L559.3 330.4L560.3 337.7M572.9 345.4L577.3 330.3M572.5 335.9L577.3 330.3L578.4 337.6M591.1 345.4L595.4 330.3M590.6 335.9L595.4 330.3L596.5 337.6M609.3 345.4L612.9 332.0M608.8 337.0L612.9 332.0L614.0 338.4M627.5 345.4L631.0 332.4M626.9 337.3L631.0 332.4L632.0 338.6M645.7 345.4L649.1 332.4M645.1 337.3L649.1 332.4L650.2 338.6M663.9 345.4L667.2 332.3M663.2 337.3L667.2 332.3L668.3 338.6M682.0 345.4L685.3 332.3M681.4 337.3L685.3 332.3L686.5 338.6M700.2 345.4L703.4 332.3M699.5 337.3L703.4 332.3L704.6 338.5M718.4 345.4L721.6 332.3M717.7 337.3L721.6 332.3L722.8 338.5M736.6 345.4L739.7 332.3M735.8 337.3L739.7 332.3L740.9 338.5M754.8 345.4L757.8 332.3M754.0 337.3L757.8 332.3L759.1 338.5M773.0 345.4L775.9 332.3M772.1 337.3L775.9 332.3L777.2 338.5M791.2 345.4L794.0 332.2M790.2 337.3L794.0 332.2L795.4 338.4M300.2 363.6L307.0 348.0M301.0 353.3L307.0 348.0L307.1 356.0M318.3 363.6L326.0 346.2M319.3 352.1L326.0 346.2L326.1 355.1M336.5 363.6L344.3 346.2M337.6 352.1L344.3 346.2L344.3 355.2M354.7 363.6L362.5 346.3M355.8 352.1L362.5 346.3L362.6 355.2M372.9 363.6L380.7 346.3M374.0 352.2L380.7 346.3L380.8 355.2M391.1 363.6L399.0 346.3M392.2 352.2L399.0 346.3L399.0 355.2M409.3 363.6L416.8 347.2M410.4 352.8L416.8 347.2L416.8 355.7M427.5 363.6L434.0 349.0M428.4 354.0L434.0 349.0L434.1 356.5M445.6 363.6L452.1 348.9M446.5 353.9L452.1 348.9L452.2 356.5M463.8 363.6L470.1 348.9M464.6 353.9L470.1 348.9L470.3 356.4M482.0 363.6L488.2 348.8M482.7 353.9L488.2 348.8L488.4 356.3M500.2 363.6L506.2 348.8M500.7 353.9L506.2 348.8L506.5 356.3M518.4 363.6L524.3 348.7M518.8 353.9L524.3 348.7L524.6 356.2M536.6 363.6L542.3 348.6M536.9 353.9L542.3 348.6L542.8 356.2M554.8 363.6L560.3 348.6M555.0 353.9L560.3 348.6L560.9 356.1M572.9 363.6L578.4 348.5M573.1 353.9L578.4 348.5L579.0 356.0M591.1 363.6L596.4 348.5M591.2 353.9L596.4 348.5L597.1 356.0M609.3 363.6L613.8 350.4M609.3 355.2L613.8 350.4L614.4 356.9M627.5 363.6L631.9 350.4M627.4 355.2L631.9 350.4L632.6 356.9M645.7 363.6L649.8 351.0M645.6 355.6L649.8 351.0L650.5 357.2M663.9 363.6L667.9 351.0M663.7 355.6L667.9 351.0L668.6 357.2M682.0 363.6L686.0 351.0M681.9 355.6L686.0 351.0L686.8 357.2M700.2 363.6L704.1 351.0M700.0 355.6L704.1 351.0L704.9 357.1M718.4 363.6L722.2 351.0M718.1 355.6L722.2 351.0L723.1 357.1M736.6 363.6L740.4 350.9M736.3 355.6L740.4 350.9L741.2 357.1M754.8 363.6L758.7 350.2M754.4 355.2L758.7 350.2L759.6 356.7M773.0 363.6L776.8 350.2M772.5 355.2L776.8 350.2L777.8 356.7M791.2 363.6L794.9 350.2M790.7 355.2L794.9 350.2L795.9 356.7M282.0 381.8L288.8 369.2M283.5 373.2L288.8 369.2L288.4 375.9M300.2 381.8L307.8 367.7M301.8 372.2L307.8 367.7L307.3 375.2M318.3 381.8L327.2 365.4M320.3 370.7L327.2 365.4L326.6 374.2M336.5 381.8L345.6 365.1M338.5 370.4L345.6 365.1L345.0 374.0M354.7 381.8L364.5 363.8M356.8 369.6L364.5 363.8L363.8 373.4M372.9 381.8L382.6 363.8M375.0 369.6L382.6 363.8L382.0 373.4M391.1 381.8L400.6 364.2M393.1 369.8L400.6 364.2L400.0 373.6M409.3 381.8L417.8 365.9M411.1 371.0L417.8 365.9L417.3 374.4M427.5 381.8L435.4 366.7M429.1 371.6L435.4 366.7L434.9 374.7M445.6 381.8L453.0 367.6M447.1 372.2L453.0 367.6L452.6 375.1M463.8 381.8L471.0 367.5M465.2 372.2L471.0 367.5L470.7 375.0M482.0 381.8L489.1 367.4M483.3 372.2L489.1 367.4L488.9 374.9M500.2 381.8L507.1 367.3M501.4 372.2L507.1 367.3L507.0 374.9M518.4 381.8L525.2 367.3M519.4 372.2L525.2 367.3L525.1 374.8M536.6 381.8L543.2 367.2M537.5 372.1L543.2 367.2L543.2 374.7M554.8 381.8L561.3 367.2M555.6 372.1L561.3 367.2L561.3 374.7M572.9 381.8L579.3 367.1M573.7 372.1L579.3 367.1L579.4 374.6M591.1 381.8L597.4 367.0M591.8 372.1L597.4 367.0L597.6 374.6M609.3 381.8L614.9 368.3M609.9 373.0L614.9 368.3L615.1 375.1M627.5 381.8L633.0 368.2M628.0 373.0L633.0 368.2L633.3 375.1M645.7 381.8L650.8 368.9M646.1 373.4L650.8 368.9L651.1 375.4M663.9 381.8L668.9 368.8M664.2 373.4L668.9 368.8L669.3 375.3M682.0 381.8L687.0 368.8M682.4 373.4L687.0 368.8L687.4 375.3M700.2 381.8L705.1 368.8M700.5 373.4L705.1 368.8L705.6 375.3M718.4 381.8L723.0 369.4M718.6 373.8L723.0 369.4L723.4 375.6M736.6 381.8L741.1 369.4M736.7 373.8L741.1 369.4L741.6 375.5M754.8 381.8L759.7 368.0M754.9 372.9L759.7 368.0L760.3 374.8M773.0 381.8L777.8 368.0M773.0 372.9L777.8 368.0L778.4 374.8M791.2 381.8L795.9 367.9M791.2 372.9L795.9 367.9L796.5 374.8M282.0 400.0L289.6 388.6M284.1 392.0L289.6 388.6L288.5 395.0M300.2 400.0L308.9 386.9M302.6 390.8L308.9 386.9L307.7 394.2M318.3 400.0L328.2 384.9M321.1 389.4L328.2 384.9L326.9 393.3M336.5 400.0L346.9 384.0M339.4 388.8L346.9 384.0L345.6 392.9M354.7 400.0L365.6 383.1M357.6 388.2L365.6 383.1L364.2 392.4M372.9 400.0L384.2 382.3M375.9 387.6L384.2 382.3L382.8 392.0M391.1 400.0L401.8 383.0M393.9 388.2L401.8 383.0L400.5 392.4M409.3 400.0L419.9 383.0M412.0 388.2L419.9 383.0L418.6 392.3M427.5 400.0L436.9 384.6M429.8 389.3L436.9 384.6L435.8 393.0M445.6 400.0L454.4 385.4M447.8 389.9L454.4 385.4L453.5 393.3M463.8 400.0L471.9 386.1M465.8 390.5L471.9 386.1L471.1 393.6M482.0 400.0L490.0 386.1M483.9 390.5L490.0 386.1L489.3 393.6M500.2 400.0L508.0 386.0M502.0 390.4L508.0 386.0L507.4 393.5M518.4 400.0L526.1 385.9M520.0 390.4L526.1 385.9L525.5 393.4M536.6 400.0L544.3 385.5M538.2 390.2L544.3 385.5L543.8 393.2M554.8 400.0L562.4 385.4M556.3 390.2L562.4 385.4L561.9 393.1M572.9 400.0L580.4 385.3M574.4 390.1L580.4 385.3L580.1 393.0M591.1 400.0L598.4 385.3M592.5 390.1L598.4 385.3L598.2 393.0M609.3 400.0L616.3 385.6M610.5 390.4L616.3 385.6L616.1 393.1M627.5 400.0L634.4 385.5M628.6 390.3L634.4 385.5L634.3 393.0M645.7 400.0L652.5 385.5M646.8 390.3L652.5 385.5L652.4 393.0M663.9 400.0L670.0 386.7M664.8 391.2L670.0 386.7L669.9 393.6M682.0 400.0L688.1 386.7M682.9 391.2L688.1 386.7L688.1 393.5M700.2 400.0L706.2 386.6M701.0 391.2L706.2 386.6L706.2 393.5M718.4 400.0L724.0 387.2M719.1 391.6L724.0 387.2L724.1 393.7M736.6 400.0L742.1 387.2M737.2 391.6L742.1 387.2L742.2 393.7M754.8 400.0L760.7 385.8M755.4 390.7L760.7 385.8L760.9 393.0M773.0 400.0L778.8 385.8M773.5 390.7L778.8 385.8L779.1 393.0M791.2 400.0L796.9 385.8M791.7 390.7L796.9 385.8L797.2 392.9M300.2 418.1L308.4 407.8M302.9 410.6L308.4 407.8L306.9 413.8M318.3 418.1L327.4 406.7M321.3 409.8L327.4 406.7L325.8 413.3M336.5 418.1L346.4 405.5M339.7 409.0L346.4 405.5L344.6 412.8M354.7 418.1L365.7 403.9M358.2 407.8L365.7 403.9L363.8 412.1M372.9 418.1L385.1 402.3M376.8 406.7L385.1 402.3L383.0 411.4M391.1 418.1L403.2 402.2M394.9 406.7L403.2 402.2L401.1 411.4M409.3 418.1L420.7 403.0M412.9 407.2L420.7 403.0L418.8 411.7M427.5 418.1L438.2 403.7M430.8 407.8L438.2 403.7L436.4 411.9M445.6 418.1L455.6 404.4M448.7 408.3L455.6 404.4L454.0 412.2M463.8 418.1L473.6 404.3M466.7 408.3L473.6 404.3L472.2 412.1M482.0 418.1L491.7 404.2M484.8 408.2L491.7 404.2L490.3 412.0M500.2 418.1L509.7 404.1M502.9 408.2L509.7 404.1L508.4 411.9M518.4 418.1L528.3 403.1M521.1 407.6L528.3 403.1L527.0 411.5M536.6 418.1L546.4 403.0M539.2 407.6L546.4 403.0L545.1 411.4M554.8 418.1L564.4 402.9M557.3 407.6L564.4 402.9L563.2 411.3M572.9 418.1L581.9 403.7M575.3 408.1L581.9 403.7L580.9 411.6M591.1 418.1L600.0 403.6M593.4 408.1L600.0 403.6L599.0 411.5M609.3 418.1L618.0 403.5M611.4 408.1L618.0 403.5L617.1 411.5M627.5 418.1L636.1 403.5M629.6 408.1L636.1 403.5L635.3 411.4M645.7 418.1L654.2 403.4M647.7 408.1L654.2 403.4L653.4 411.4M663.9 418.1L672.3 403.4M665.8 408.0L672.3 403.4L671.6 411.3M682.0 418.1L690.4 403.3M683.9 408.0L690.4 403.3L689.7 411.3M700.2 418.1L708.4 403.2M702.0 408.0L708.4 403.2L707.8 411.2M718.4 418.1L725.7 404.7M720.0 409.0L725.7 404.7L725.2 411.9M736.6 418.1L743.8 404.6M738.1 409.0L743.8 404.6L743.4 411.8M754.8 418.1L762.2 404.0M756.3 408.6L762.2 404.0L761.8 411.5M773.0 418.1L780.3 403.9M774.4 408.6L780.3 403.9L780.0 411.4M791.2 418.1L798.4 403.9M792.5 408.6L798.4 403.9L798.1 411.4M336.5 436.3L346.9 425.1M340.3 427.9L346.9 425.1L344.7 431.9M354.7 436.3L366.2 423.8M358.9 426.9L366.2 423.8L363.7 431.4M372.9 436.3L385.7 422.3M377.5 425.8L385.7 422.3L383.0 430.8M391.1 436.3L404.6 421.5M395.9 425.2L404.6 421.5L401.7 430.5M409.3 436.3L422.1 422.3M413.8 425.8L422.1 422.3L419.3 430.8M427.5 436.3L438.8 423.7M431.5 426.9L438.8 423.7L436.4 431.3M445.6 436.3L456.6 423.8M449.5 427.0L456.6 423.8L454.3 431.3M463.8 436.3L474.6 423.7M467.5 427.0L474.6 423.7L472.5 431.2M482.0 436.3L493.1 422.9M485.8 426.5L493.1 422.9L491.0 430.8M500.2 436.3L511.5 422.3M503.9 426.1L511.5 422.3L509.4 430.5M518.4 436.3L529.6 422.2M522.0 426.1L529.6 422.2L527.5 430.4M536.6 436.3L547.8 421.8M540.2 425.8L547.8 421.8L545.9 430.2M554.8 436.3L565.9 421.7M558.3 425.8L565.9 421.7L564.0 430.1M572.9 436.3L583.9 421.6M576.4 425.7L583.9 421.6L582.1 430.0M591.1 436.3L601.7 421.8M594.4 425.9L601.7 421.8L600.0 430.1M609.3 436.3L619.4 422.2M612.3 426.2L619.4 422.2L617.9 430.2M627.5 436.3L637.5 422.1M630.5 426.2L637.5 422.1L636.0 430.1M645.7 436.3L655.6 422.0M648.6 426.2L655.6 422.0L654.2 430.1M663.9 436.3L673.7 422.0M666.7 426.2L673.7 422.0L672.3 430.0M682.0 436.3L691.8 421.9M684.8 426.2L691.8 421.9L690.4 430.0M700.2 436.3L709.4 422.7M702.8 426.7L709.4 422.7L708.1 430.3M718.4 436.3L727.5 422.6M720.9 426.7L727.5 422.6L726.3 430.2M736.6 436.3L745.6 422.6M739.0 426.7L745.6 422.6L744.4 430.2M754.8 436.3L763.1 423.4M757.0 427.3L763.1 423.4L762.0 430.6M773.0 436.3L780.6 424.2M775.0 427.9L780.6 424.2L779.7 430.9M791.2 436.3L798.7 424.2M793.1 427.9L798.7 424.2L797.9 430.8M336.5 454.5L349.1 443.1M341.5 445.5L349.1 443.1L346.0 450.4M354.7 454.5L369.5 441.0M360.6 443.9L369.5 441.0L365.8 449.7M372.9 454.5L388.4 440.4M379.0 443.4L388.4 440.4L384.5 449.4M391.1 454.5L406.0 441.1M397.0 443.9L406.0 441.1L402.2 449.7M409.3 454.5L423.5 441.9M414.9 444.5L423.5 441.9L419.9 450.0M427.5 454.5L440.1 443.1M432.5 445.5L440.1 443.1L436.9 450.5M445.6 454.5L457.8 443.2M450.4 445.7L457.8 443.2L454.8 450.4M463.8 454.5L476.4 442.4M468.6 445.1L476.4 442.4L473.4 450.0M482.0 454.5L494.7 441.8M486.8 444.7L494.7 441.8L491.8 449.7M500.2 454.5L513.0 441.3M504.9 444.4L513.0 441.3L510.1 449.4M518.4 454.5L531.1 440.9M523.0 444.3L531.1 440.9L528.3 449.2M536.6 454.5L549.4 440.5M541.2 444.0L549.4 440.5L546.7 449.0M554.8 454.5L567.5 440.4M559.3 443.9L567.5 440.4L564.8 448.9M572.9 454.5L585.3 440.6M577.3 444.1L585.3 440.6L582.7 448.9M591.1 454.5L602.9 440.9M595.2 444.4L602.9 440.9L600.5 449.0M609.3 454.5L620.7 441.1M613.2 444.6L620.7 441.1L618.4 449.0M627.5 454.5L638.8 441.0M631.3 444.6L638.8 441.0L636.6 449.0M645.7 454.5L656.9 441.0M649.5 444.6L656.9 441.0L654.8 448.9M663.9 454.5L675.0 440.9M667.6 444.5L675.0 440.9L672.9 448.9M682.0 454.5L693.1 440.8M685.7 444.5L693.1 440.8L691.1 448.8M700.2 454.5L711.2 440.8M703.9 444.5L711.2 440.8L709.2 448.8M718.4 454.5L728.7 441.5M721.8 445.0L728.7 441.5L726.8 449.1M736.6 454.5L746.8 441.4M739.9 445.0L746.8 441.4L745.0 449.0M754.8 454.5L764.9 441.4M758.0 445.0L764.9 441.4L763.2 449.0M773.0 454.5L782.7 441.8M776.0 445.3L782.7 441.8L781.0 449.1M791.2 454.5L800.8 441.7M794.2 445.3L800.8 441.7L799.2 449.1M336.5 472.7L352.5 460.6M343.3 462.7L352.5 460.6L348.0 468.9M354.7 472.7L372.3 459.4M362.2 461.7L372.3 459.4L367.3 468.5M372.9 472.7L390.6 459.6M380.4 461.7L390.6 459.6L385.6 468.6M391.1 472.7L408.1 460.4M398.5 462.3L408.1 460.4L403.2 469.0M409.3 472.7L425.7 461.3M416.5 463.0L425.7 461.3L420.9 469.4M427.5 472.7L443.1 461.8M434.3 463.4L443.1 461.8L438.5 469.5M445.6 472.7L461.0 461.6M452.3 463.3L461.0 461.6L456.6 469.3M463.8 472.7L478.9 461.1M470.2 463.1L478.9 461.1L474.7 469.0M482.0 472.7L497.1 460.2M488.2 462.6L497.1 460.2L493.1 468.5M500.2 472.7L515.3 459.6M506.3 462.2L515.3 459.6L511.4 468.1M518.4 472.7L533.3 459.3M524.3 462.1L533.3 459.3L529.5 467.9M536.6 472.7L551.3 459.2M542.4 462.1L551.3 459.2L547.6 467.8M554.8 472.7L569.3 459.0M560.4 462.0L569.3 459.0L565.8 467.7M572.9 472.7L587.0 459.3M578.3 462.3L587.0 459.3L583.6 467.7M591.1 472.7L604.4 459.7M596.2 462.7L604.4 459.7L601.3 467.8M609.3 472.7L622.1 460.0M614.1 462.9L622.1 460.0L619.1 467.9M627.5 472.7L640.2 459.9M632.3 462.9L640.2 459.9L637.2 467.9M645.7 472.7L658.3 459.9M650.4 462.9L658.3 459.9L655.4 467.8M663.9 472.7L676.4 459.8M668.5 462.9L676.4 459.8L673.6 467.7M682.0 472.7L693.8 460.4M686.4 463.4L693.8 460.4L691.2 468.0M700.2 472.7L712.0 460.4M704.5 463.3L712.0 460.4L709.3 467.9M718.4 472.7L730.1 460.3M722.7 463.3L730.1 460.3L727.5 467.9M736.6 472.7L748.2 460.2M740.8 463.3L748.2 460.2L745.7 467.8M754.8 472.7L766.3 460.2M758.9 463.3L766.3 460.2L763.8 467.8M773.0 472.7L784.4 460.1M777.1 463.3L784.4 460.1L782.0 467.7M791.2 472.7L802.5 460.0M795.2 463.2L802.5 460.0L800.1 467.7M318.3 490.9L331.9 482.4M324.4 483.4L331.9 482.4L327.8 488.6M336.5 490.9L354.3 479.7M344.5 481.0L354.3 479.7L348.9 487.9M354.7 490.9L374.2 478.7M363.5 480.1L374.2 478.7L368.3 487.7M372.9 490.9L392.7 479.1M381.9 480.3L392.7 479.1L386.5 488.0M391.1 490.9L409.4 480.7M399.6 481.4L409.4 480.7L403.6 488.6M409.3 490.9L424.4 483.1M416.4 483.5L424.4 483.1L419.4 489.3M427.5 490.9L442.2 483.3M434.5 483.7L442.2 483.3L437.4 489.4M445.6 490.9L460.9 482.6M452.8 483.1L460.9 482.6L456.0 489.1M463.8 490.9L480.1 481.1M471.2 482.1L480.1 481.1L475.1 488.4M482.0 490.9L499.5 479.2M489.7 480.8L499.5 479.2L494.3 487.6M500.2 490.9L518.1 478.0M507.9 480.0L518.1 478.0L512.9 487.0M518.4 490.9L536.0 477.6M525.9 479.9L536.0 477.6L531.0 486.7M536.6 490.9L553.2 478.0M543.6 480.3L553.2 478.0L548.6 486.7M554.8 490.9L570.9 478.1M561.5 480.4L570.9 478.1L566.5 486.7M572.9 490.9L588.5 478.3M579.4 480.6L588.5 478.3L584.3 486.7M591.1 490.9L605.8 478.8M597.2 481.1L605.8 478.8L601.9 486.8M609.3 490.9L623.1 479.3M614.9 481.6L623.1 479.3L619.5 486.9M627.5 490.9L641.2 479.2M633.1 481.5L641.2 479.2L637.6 486.9M645.7 490.9L659.3 479.1M651.2 481.5L659.3 479.1L655.8 486.8M663.9 490.9L676.7 479.7M669.0 482.0L676.7 479.7L673.4 487.0M682.0 490.9L694.8 479.7M687.2 482.0L694.8 479.7L691.5 486.9M700.2 490.9L713.0 479.6M705.3 481.9L713.0 479.6L709.7 486.9M718.4 490.9L731.1 479.5M723.5 481.9L731.1 479.5L727.9 486.8M736.6 490.9L749.2 479.5M741.6 481.9L749.2 479.5L746.0 486.8M754.8 490.9L767.3 479.4M759.7 481.9L767.3 479.4L764.2 486.7M773.0 490.9L785.5 479.3M777.9 481.8L785.5 479.3L782.4 486.7M791.2 490.9L803.6 479.3M796.0 481.8L803.6 479.3L800.5 486.7M300.2 509.0L314.7 500.3M306.8 501.2L314.7 500.3L310.2 506.9M318.3 509.0L335.4 498.7M326.1 499.8L335.4 498.7L330.2 506.4M336.5 509.0L354.5 498.1M344.7 499.3L354.5 498.1L348.9 506.3M354.7 509.0L372.8 498.3M363.0 499.4L372.8 498.3L367.1 506.4M372.9 509.0L391.2 498.8M381.4 499.6L391.2 498.8L385.4 506.8M391.1 509.0L407.2 500.9M398.7 501.3L407.2 500.9L401.9 507.5M409.3 509.0L422.6 503.0M415.7 503.0L422.6 503.0L418.1 508.2M427.5 509.0L440.8 503.2M434.0 503.1L440.8 503.2L436.2 508.3M445.6 509.0L459.8 502.3M452.5 502.4L459.8 502.3L455.1 508.0M463.8 509.0L479.6 500.5M471.2 501.0L479.6 500.5L474.6 507.2M482.0 509.0L499.4 498.3M489.9 499.5L499.4 498.3L494.0 506.3M500.2 509.0L518.4 496.8M508.2 498.5L518.4 496.8L513.0 505.6M518.4 509.0L536.3 496.3M526.2 498.3L536.3 496.3L531.1 505.3M536.6 509.0L553.5 496.7M543.9 498.7L553.5 496.7L548.7 505.3M554.8 509.0L571.3 496.8M561.8 498.8L571.3 496.8L566.6 505.2M572.9 509.0L588.6 497.2M579.6 499.2L588.6 497.2L584.2 505.3M591.1 509.0L605.9 497.7M597.4 499.7L605.9 497.7L601.8 505.4M609.3 509.0L623.5 498.0M615.3 499.9L623.5 498.0L619.6 505.5M627.5 509.0L641.6 497.9M633.4 499.9L641.6 497.9L637.8 505.4M645.7 509.0L659.8 497.8M651.6 499.9L659.8 497.8L655.9 505.4M663.9 509.0L677.1 498.4M669.4 500.4L677.1 498.4L673.5 505.5M682.0 509.0L695.3 498.4M687.5 500.4L695.3 498.4L691.7 505.5M700.2 509.0L713.4 498.3M705.7 500.3L713.4 498.3L709.9 505.5M718.4 509.0L731.5 498.2M723.8 500.3L731.5 498.2L728.0 505.4M736.6 509.0L749.7 498.2M742.0 500.3L749.7 498.2L746.2 505.4M754.8 509.0L768.1 497.9M760.2 500.1L768.1 497.9L764.6 505.3M773.0 509.0L786.3 497.8M778.4 500.0L786.3 497.8L782.8 505.2M791.2 509.0L804.4 497.8M796.5 500.0L804.4 497.8L800.9 505.2M282.0 527.2L298.4 517.7M289.5 518.6L298.4 517.7L293.2 525.0M300.2 527.2L318.3 516.6M308.5 517.6L318.3 516.6L312.6 524.7M318.3 527.2L336.4 516.6M326.6 517.6L336.4 516.6L330.8 524.7M336.5 527.2L354.6 516.6M344.8 517.6L354.6 516.6L349.0 524.7M354.7 527.2L372.1 517.3M362.7 518.2L372.1 517.3L366.6 524.9M372.9 527.2L389.6 518.2M380.7 518.8L389.6 518.2L384.2 525.3M391.1 527.2L406.0 520.0M398.2 520.2L406.0 520.0L401.0 526.0M409.3 527.2L423.3 521.1M416.1 521.0L423.3 521.1L418.5 526.5M427.5 527.2L441.6 521.3M434.4 521.1L441.6 521.3L436.7 526.6M445.6 527.2L460.2 520.7M452.7 520.6L460.2 520.7L455.3 526.3M463.8 527.2L479.8 519.0M471.4 519.4L479.8 519.0L474.6 525.6M482.0 527.2L499.3 517.1M489.9 518.1L499.3 517.1L493.9 524.8M500.2 527.2L518.2 515.7M508.3 517.1L518.2 515.7L512.8 524.2M518.4 527.2L536.2 515.3M526.2 517.0L536.2 515.3L530.9 523.9M536.6 527.2L553.9 515.4M544.2 517.1L553.9 515.4L548.8 523.8M554.8 527.2L571.5 515.6M562.1 517.3L571.5 515.6L566.6 523.8M572.9 527.2L588.8 516.0M579.8 517.7L588.8 516.0L584.2 523.9M591.1 527.2L606.1 516.5M597.6 518.2L606.1 516.5L601.8 524.0M609.3 527.2L624.7 516.1M615.9 517.8L624.7 516.1L620.3 523.8M627.5 527.2L642.8 516.0M634.1 517.8L642.8 516.0L638.5 523.8M645.7 527.2L661.0 516.0M652.2 517.8L661.0 516.0L656.6 523.8M663.9 527.2L678.3 516.5M670.0 518.3L678.3 516.5L674.2 523.9M682.0 527.2L696.5 516.5M688.2 518.3L696.5 516.5L692.4 523.9M700.2 527.2L714.6 516.4M706.4 518.2L714.6 516.4L710.6 523.8M718.4 527.2L732.8 516.4M724.5 518.2L732.8 516.4L728.7 523.8M736.6 527.2L750.9 516.3M742.7 518.2L750.9 516.3L746.9 523.8M754.8 527.2L769.1 516.3M760.8 518.2L769.1 516.3L765.1 523.8M773.0 527.2L787.2 516.2M779.0 518.2L787.2 516.2L783.3 523.7M791.2 527.2L805.4 516.2M797.1 518.1L805.4 516.2L801.4 523.7M263.8 545.4L279.5 536.7M271.1 537.3L279.5 536.7L274.5 543.5M282.0 545.4L300.3 535.1M290.5 536.0L300.3 535.1L294.5 543.1M300.2 545.4L319.7 534.4M309.2 535.3L319.7 534.4L313.5 542.9M318.3 545.4L337.5 534.5M327.2 535.4L337.5 534.5L331.4 542.9M336.5 545.4L354.8 535.0M344.9 535.9L354.8 535.0L349.0 543.0M354.7 545.4L372.2 535.6M362.8 536.4L372.2 535.6L366.6 543.2M372.9 545.4L389.7 536.5M380.8 537.0L389.7 536.5L384.2 543.6M391.1 545.4L407.2 537.5M398.8 537.7L407.2 537.5L401.9 544.0M409.3 545.4L425.7 538.0M417.2 538.0L425.7 538.0L420.1 544.4M427.5 545.4L444.5 537.9M435.7 537.8L444.5 537.9L438.7 544.4M445.6 545.4L463.2 537.2M454.1 537.3L463.2 537.2L457.3 544.2M463.8 545.4L481.6 536.3M472.2 536.7L481.6 536.3L475.8 543.6M482.0 545.4L500.3 535.0M490.4 535.9L500.3 535.0L494.5 543.0M500.2 545.4L518.6 534.2M508.6 535.4L518.6 534.2L512.9 542.6M518.4 545.4L536.6 533.9M526.6 535.2L536.6 533.9L531.1 542.4M536.6 545.4L554.7 533.7M544.7 535.2L554.7 533.7L549.2 542.2M554.8 545.4L572.3 533.9M562.6 535.4L572.3 533.9L567.0 542.3M572.9 545.4L589.6 534.4M580.3 535.8L589.6 534.4L584.6 542.4M591.1 545.4L606.9 534.9M598.1 536.3L606.9 534.9L602.2 542.5M609.3 545.4L626.4 533.9M616.8 535.5L626.4 533.9L621.3 542.1M627.5 545.4L644.5 533.9M635.0 535.5L644.5 533.9L639.5 542.1M645.7 545.4L662.7 533.8M653.2 535.5L662.7 533.8L657.7 542.1M663.9 545.4L680.4 534.1M671.1 535.7L680.4 534.1L675.5 542.2M682.0 545.4L698.5 534.1M689.3 535.7L698.5 534.1L693.7 542.1M700.2 545.4L716.7 534.1M707.4 535.7L716.7 534.1L711.9 542.1M718.4 545.4L734.4 534.4M725.4 536.0L734.4 534.4L729.7 542.2M736.6 545.4L752.5 534.3M743.6 536.0L752.5 534.3L747.9 542.2M754.8 545.4L770.7 534.3M761.7 535.9L770.7 534.3L766.1 542.1M773.0 545.4L788.8 534.3M779.9 535.9L788.8 534.3L784.2 542.1M791.2 545.4L807.0 534.2M798.0 535.9L807.0 534.2L802.4 542.1M245.6 563.6L262.4 554.6M253.5 555.2L262.4 554.6L256.9 561.7M263.8 563.6L282.3 553.6M272.4 554.3L282.3 553.6L276.3 561.5M282.0 563.6L302.2 552.6M291.4 553.4L302.2 552.6L295.7 561.2M300.2 563.6L320.3 552.5M309.5 553.3L320.3 552.5L313.9 561.2M318.3 563.6L337.2 553.1M327.1 553.9L337.2 553.1L331.2 561.3M336.5 563.6L354.5 553.6M344.9 554.4L354.5 553.6L348.8 561.4M354.7 563.6L372.2 553.9M362.9 554.7L372.2 553.9L366.6 561.5M372.9 563.6L390.0 554.4M380.9 555.0L390.0 554.4L384.5 561.7M391.1 563.6L408.0 554.9M399.1 555.3L408.0 554.9L402.5 561.9M409.3 563.6L426.7 555.1M417.6 555.3L426.7 555.1L420.9 562.1M427.5 563.6L445.5 554.9M436.1 555.1L445.5 554.9L439.5 562.2M445.6 563.6L464.1 554.5M454.4 554.8L464.1 554.5L458.0 562.0M463.8 563.6L482.4 553.8M472.6 554.4L482.4 553.8L476.4 561.6M482.0 563.6L500.3 553.3M490.5 554.1L500.3 553.3L494.5 561.3M500.2 563.6L518.7 552.8M508.7 553.8L518.7 552.8L512.9 561.0M518.4 563.6L537.3 552.3M527.0 553.4L537.3 552.3L531.4 560.8M536.6 563.6L555.7 552.0M545.3 553.2L555.7 552.0L549.8 560.7M554.8 563.6L573.9 551.9M563.4 553.2L573.9 551.9L568.0 560.6M572.9 563.6L591.7 552.1M581.4 553.3L591.7 552.1L585.9 560.6M591.1 563.6L609.0 552.5M599.2 553.8L609.0 552.5L603.5 560.7M609.3 563.6L628.5 551.6M617.9 553.0L628.5 551.6L622.6 560.5M627.5 563.6L646.6 551.6M636.1 553.0L646.6 551.6L640.8 560.5M645.7 563.6L664.8 551.6M654.3 553.0L664.8 551.6L659.0 560.4M663.9 563.6L682.1 552.1M672.1 553.4L682.1 552.1L676.6 560.6M682.0 563.6L699.5 552.6M689.9 553.9L699.5 552.6L694.2 560.7M700.2 563.6L717.6 552.6M708.0 553.9L717.6 552.6L712.3 560.7M718.4 563.6L735.8 552.6M726.2 553.9L735.8 552.6L730.5 560.7M736.6 563.6L754.0 552.5M744.4 553.9L754.0 552.5L748.7 560.7M754.8 563.6L772.2 552.5M762.6 553.9L772.2 552.5L766.9 560.6M773.0 563.6L790.3 552.5M780.7 553.9L790.3 552.5L785.1 560.6M791.2 563.6L808.5 552.5M798.9 553.9L808.5 552.5L803.3 560.6M209.2 581.8L228.8 571.8M218.5 572.2L228.8 571.8L222.4 579.9M227.4 581.8L248.4 571.0M237.3 571.5L248.4 571.0L241.5 579.7M245.6 581.8L266.5 570.9M255.5 571.5L266.5 570.9L259.7 579.6M263.8 581.8L284.1 571.1M273.4 571.7L284.1 571.1L277.5 579.6M282.0 581.8L301.9 571.2M291.3 571.8L301.9 571.2L295.5 579.6M300.2 581.8L319.5 571.4M309.2 572.0L319.5 571.4L313.3 579.6M318.3 581.8L336.8 571.8M327.0 572.4L336.8 571.8L330.9 579.6M336.5 581.8L354.6 571.9M345.0 572.6L354.6 571.9L348.8 579.7M354.7 581.8L372.3 572.2M362.9 572.9L372.3 572.2L366.6 579.7M372.9 581.8L390.5 572.3M381.1 572.9L390.5 572.3L384.8 579.8M391.1 581.8L408.8 572.5M399.4 573.0L408.8 572.5L403.0 579.9M409.3 581.8L427.1 572.6M417.7 573.1L427.1 572.6L421.2 580.0M427.5 581.8L445.6 572.5M436.1 572.9L445.6 572.5L439.7 580.0M445.6 581.8L464.3 572.1M454.4 572.6L464.3 572.1L458.2 579.9M463.8 581.8L482.7 571.7M472.7 572.3L482.7 571.7L476.6 579.7M482.0 581.8L500.8 571.5M490.8 572.2L500.8 571.5L494.8 579.6M500.2 581.8L519.1 571.2M508.9 572.1L519.1 571.2L513.0 579.4M518.4 581.8L537.9 570.8M527.4 571.7L537.9 570.8L531.7 579.3M536.6 581.8L556.6 570.4M545.8 571.4L556.6 570.4L550.2 579.2M554.8 581.8L574.7 570.4M564.0 571.4L574.7 570.4L568.4 579.1M572.9 581.8L592.5 570.5M582.0 571.5L592.5 570.5L586.3 579.2M591.1 581.8L610.2 570.8M599.9 571.8L610.2 570.8L604.2 579.2M609.3 581.8L629.6 570.1M618.6 571.1L629.6 570.1L623.2 579.0M627.5 581.8L647.8 570.1M636.8 571.1L647.8 570.1L641.4 579.0M645.7 581.8L665.9 570.1M655.0 571.1L665.9 570.1L659.6 579.0M663.9 581.8L682.9 570.8M672.6 571.8L682.9 570.8L676.9 579.2M682.0 581.8L700.2 571.3M690.4 572.2L700.2 571.3L694.5 579.3M700.2 581.8L718.4 571.3M708.6 572.2L718.4 571.3L712.7 579.3M718.4 581.8L736.6 571.3M726.8 572.2L736.6 571.3L730.9 579.3M736.6 581.8L754.8 571.3M745.0 572.2L754.8 571.3L749.1 579.3M754.8 581.8L772.6 571.5M763.0 572.4L772.6 571.5L767.0 579.4M773.0 581.8L790.8 571.5M781.2 572.4L790.8 571.5L785.2 579.4M791.2 581.8L809.0 571.5M799.4 572.4L809.0 571.5L803.4 579.4M136.5 600.0L156.9 589.4M146.1 589.9L156.9 589.4L150.2 597.9M154.7 600.0L175.1 589.4M164.3 589.9L175.1 589.4L168.4 597.9M172.9 600.0L193.3 589.5M182.5 590.0L193.3 589.5L186.6 597.9M191.0 600.0L211.5 589.5M200.7 590.0L211.5 589.5L204.8 597.9M209.2 600.0L230.6 589.0M219.3 589.5L230.6 589.0L223.6 597.9M227.4 600.0L248.7 588.9M237.5 589.5L248.7 588.9L241.8 597.8M245.6 600.0L266.5 589.0M255.4 589.6L266.5 589.0L259.7 597.8M263.8 600.0L284.1 589.2M273.3 589.8L284.1 589.2L277.5 597.8M282.0 600.0L301.7 589.4M291.2 590.0L301.7 589.4L295.3 597.7M300.2 600.0L319.5 589.4M309.2 590.2L319.5 589.4L313.3 597.7M318.3 600.0L337.3 589.6M327.2 590.3L337.3 589.6L331.2 597.7M336.5 600.0L354.9 589.8M345.1 590.6L354.9 589.8L349.0 597.7M354.7 600.0L373.1 589.8M363.3 590.6L373.1 589.8L367.2 597.7M372.9 600.0L391.0 590.1M381.3 590.8L391.0 590.1L385.2 597.8M391.1 600.0L409.2 590.1M399.5 590.8L409.2 590.1L403.4 597.9M409.3 600.0L426.9 590.5M417.5 591.1L426.9 590.5L421.2 598.0M427.5 600.0L445.5 590.4M435.9 591.0L445.5 590.4L439.6 598.0M445.6 600.0L464.2 590.1M454.3 590.7L464.2 590.1L458.2 597.9M463.8 600.0L482.3 590.1M472.5 590.7L482.3 590.1L476.4 597.9M482.0 600.0L500.9 589.8M490.8 590.5L500.9 589.8L494.8 597.8M500.2 600.0L519.5 589.5M509.2 590.2L519.5 589.5L513.3 597.7M518.4 600.0L538.6 589.0M527.8 589.7L538.6 589.0L532.1 597.6M536.6 600.0L557.1 588.8M546.2 589.6L557.1 588.8L550.5 597.6M554.8 600.0L575.3 588.8M564.4 589.6L575.3 588.8L568.7 597.6M572.9 600.0L593.2 589.0M582.4 589.7L593.2 589.0L586.6 597.6M591.1 600.0L611.0 589.2M600.4 589.9L611.0 589.2L604.6 597.7M609.3 600.0L630.1 588.7M619.0 589.5L630.1 588.7L623.4 597.6M627.5 600.0L648.3 588.7M637.2 589.5L648.3 588.7L641.6 597.6M645.7 600.0L666.4 588.7M655.4 589.5L666.4 588.7L659.7 597.6M663.9 600.0L684.6 588.8M673.6 589.5L684.6 588.8L677.9 597.6M682.0 600.0L701.4 589.5M691.1 590.2L701.4 589.5L695.2 597.8M700.2 600.0L719.6 589.5M709.3 590.2L719.6 589.5L713.3 597.8M718.4 600.0L736.9 590.0M727.1 590.7L736.9 590.0L730.9 597.9M736.6 600.0L755.1 590.0M745.2 590.7L755.1 590.0L749.1 597.9M754.8 600.0L772.9 590.2M763.3 590.8L772.9 590.2L767.1 597.9M773.0 600.0L790.9 590.3M781.4 590.9L790.9 590.3L785.1 597.9M791.2 600.0L809.1 590.3M799.6 590.9L809.1 590.3L803.3 597.9M27.4 618.1L42.1 610.5M34.3 610.9L42.1 610.5L37.3 616.6M45.6 618.1L63.3 608.9M53.9 609.4L63.3 608.9L57.5 616.3M63.8 618.1L83.3 608.0M73.0 608.5L83.3 608.0L76.9 616.1M81.9 618.1L102.4 607.6M91.6 608.1L102.4 607.6L95.7 616.1M100.1 618.1L121.4 607.1M110.2 607.7L121.4 607.1L114.5 616.0M118.3 618.1L139.6 607.1M128.4 607.7L139.6 607.1L132.7 616.0M136.5 618.1L157.8 607.2M146.6 607.7L157.8 607.2L150.8 616.0M154.7 618.1L176.0 607.2M164.8 607.7L176.0 607.2L169.0 616.0M172.9 618.1L194.2 607.2M183.0 607.7L194.2 607.2L187.2 616.0M191.0 618.1L212.4 607.2M201.1 607.7L212.4 607.2L205.4 616.0M209.2 618.1L230.6 607.2M219.3 607.7L230.6 607.2L223.6 616.0M227.4 618.1L248.7 607.1M237.5 607.7L248.7 607.1L241.8 616.0M245.6 618.1L266.8 606.9M255.6 607.6L266.8 606.9L259.9 615.9M263.8 618.1L284.0 607.2M273.3 608.0L284.0 607.2L277.5 615.8M282.0 618.1L302.1 607.1M291.4 607.9L302.1 607.1L295.7 615.7M300.2 618.1L320.2 606.9M309.5 607.8L320.2 606.9L313.8 615.6M318.3 618.1L337.5 607.3M327.2 608.2L337.5 607.3L331.4 615.7M336.5 618.1L355.7 607.3M345.4 608.2L355.7 607.3L349.6 615.6M354.7 618.1L373.9 607.3M363.6 608.2L373.9 607.3L367.8 615.7M372.9 618.1L391.2 607.9M381.4 608.7L391.2 607.9L385.4 615.8M391.1 618.1L409.5 608.0M399.6 608.7L409.5 608.0L403.6 615.9M409.3 618.1L426.8 608.6M417.5 609.2L426.8 608.6L421.2 616.1M427.5 618.1L445.1 608.7M435.7 609.3L445.1 608.7L439.4 616.2M445.6 618.1L463.8 608.5M454.2 609.1L463.8 608.5L457.9 616.2M463.8 618.1L482.4 608.4M472.6 608.9L482.4 608.4L476.4 616.2M482.0 618.1L501.0 608.2M490.9 608.8L501.0 608.2L494.8 616.2M500.2 618.1L519.7 608.0M509.4 608.5L519.7 608.0L513.3 616.1M518.4 618.1L538.4 607.7M527.8 608.3L538.4 607.7L531.9 616.1M536.6 618.1L557.0 607.6M546.2 608.1L557.0 607.6L550.3 616.1M554.8 618.1L575.6 607.5M564.6 608.0L575.6 607.5L568.7 616.1M572.9 618.1L593.8 607.5M582.8 608.0L593.8 607.5L586.9 616.1M591.1 618.1L612.0 607.5M601.0 608.0L612.0 607.5L605.1 616.1M609.3 618.1L630.7 607.3M619.5 607.8L630.7 607.3L623.7 616.1M627.5 618.1L648.9 607.3M637.6 607.8L648.9 607.3L641.9 616.1M645.7 618.1L667.1 607.3M655.8 607.8L667.1 607.3L660.0 616.1M663.9 618.1L684.8 607.6M673.8 608.1L684.8 607.6L677.9 616.2M682.0 618.1L702.2 608.0M691.6 608.4L702.2 608.0L695.6 616.3M700.2 618.1L719.9 608.3M709.6 608.7L719.9 608.3L713.4 616.3M718.4 618.1L737.6 608.6M727.5 608.9L737.6 608.6L731.2 616.4M736.6 618.1L755.0 608.9M745.4 609.3L755.0 608.9L748.9 616.5M754.8 618.1L773.0 609.0M763.5 609.4L773.0 609.0L767.0 616.5M773.0 618.1L791.2 609.1M781.7 609.4L791.2 609.1L785.2 616.5M791.2 618.1L809.6 609.0M799.9 609.3L809.6 609.0L803.5 616.5M9.2 636.3L25.2 628.0M16.7 628.5L25.2 628.0L20.0 634.7M27.4 636.3L46.0 626.7M36.2 627.2L46.0 626.7L39.9 634.4M45.6 636.3L65.6 625.9M55.0 626.5L65.6 625.9L59.1 634.3M63.8 636.3L84.7 625.5M73.6 626.0L84.7 625.5L77.9 634.2M81.9 636.3L103.3 625.3M92.0 625.9L103.3 625.3L96.3 634.2M100.1 636.3L121.5 625.3M110.2 625.9L121.5 625.3L114.5 634.2M118.3 636.3L139.7 625.4M128.4 625.9L139.7 625.4L132.7 634.2M136.5 636.3L157.8 625.4M146.6 625.9L157.8 625.4L150.9 634.2M154.7 636.3L176.0 625.4M164.8 625.9L176.0 625.4L169.0 634.2M172.9 636.3L194.2 625.4M183.0 625.9L194.2 625.4L187.2 634.2M191.0 636.3L212.4 625.4M201.1 625.9L212.4 625.4L205.4 634.2M209.2 636.3L230.6 625.3M219.3 625.9L230.6 625.3L223.6 634.2M227.4 636.3L248.7 625.2M237.4 625.8L248.7 625.2L241.8 634.1M245.6 636.3L266.7 625.0M255.5 625.7L266.7 625.0L259.9 633.9M263.8 636.3L284.8 624.7M273.5 625.6L284.8 624.7L278.1 633.8M282.0 636.3L302.3 624.7M291.3 625.7L302.3 624.7L295.9 633.6M300.2 636.3L320.3 624.5M309.4 625.6L320.3 624.5L314.0 633.5M318.3 636.3L337.7 624.7M327.2 625.9L337.7 624.7L331.7 633.5M336.5 636.3L355.9 624.7M345.4 625.9L355.9 624.7L349.9 633.4M354.7 636.3L373.6 625.1M363.4 626.2L373.6 625.1L367.7 633.6M372.9 636.3L391.1 625.8M381.2 626.8L391.1 625.8L385.4 633.8M391.1 636.3L408.5 626.5M399.1 627.3L408.5 626.5L403.0 634.1M409.3 636.3L425.9 627.1M417.0 627.8L425.9 627.1L420.6 634.3M427.5 636.3L444.6 627.2M435.5 627.7L444.6 627.2L439.0 634.4M445.6 636.3L463.4 627.1M454.0 627.6L463.4 627.1L457.6 634.5M463.8 636.3L482.1 626.9M472.5 627.4L482.1 626.9L476.1 634.5M482.0 636.3L500.7 626.8M490.9 627.2L500.7 626.8L494.6 634.5M500.2 636.3L519.5 626.6M509.4 627.0L519.5 626.6L513.1 634.5M518.4 636.3L538.4 626.4M527.9 626.7L538.4 626.4L531.8 634.5M536.6 636.3L557.2 626.2M546.4 626.5L557.2 626.2L550.4 634.5M554.8 636.3L576.0 626.0M564.9 626.3L576.0 626.0L568.9 634.6M572.9 636.3L594.2 626.1M583.1 626.3L594.2 626.1L587.1 634.6M591.1 636.3L612.4 626.2M601.3 626.4L612.4 626.2L605.3 634.7M609.3 636.3L631.0 626.1M619.7 626.2L631.0 626.1L623.7 634.7M627.5 636.3L649.2 626.1M637.9 626.3L649.2 626.1L641.9 634.7M645.7 636.3L667.4 626.1M656.1 626.3L667.4 626.1L660.1 634.7M663.9 636.3L685.6 626.2M674.3 626.3L685.6 626.2L678.3 634.8M682.0 636.3L703.3 626.4M692.3 626.5L703.3 626.4L696.1 634.8M700.2 636.3L720.7 626.8M710.1 626.9L720.7 626.8L713.8 634.9M718.4 636.3L738.4 627.1M728.0 627.1L738.4 627.1L731.6 634.9M736.6 636.3L755.7 627.5M745.8 627.6L755.7 627.5L749.2 635.0M754.8 636.3L773.5 627.7M763.8 627.7L773.5 627.7L767.2 635.0M773.0 636.3L791.7 627.7M782.0 627.8L791.7 627.7L785.4 635.1M791.2 636.3L809.9 627.7M800.2 627.8L809.9 627.7L803.5 635.1M9.2 654.5L26.1 645.8M17.2 646.2L26.1 645.8L20.6 652.8M27.4 654.5L46.1 644.9M36.2 645.4L46.1 644.9L39.9 652.7M45.6 654.5L66.0 644.0M55.2 644.5L66.0 644.0L59.3 652.5M63.8 654.5L85.1 643.6M73.8 644.1L85.1 643.6L78.1 652.4M81.9 654.5L103.8 643.3M92.3 643.8L103.8 643.3L96.7 652.4M100.1 654.5L122.0 643.3M110.5 643.8L122.0 643.3L114.8 652.4M118.3 654.5L140.2 643.3M128.7 643.8L140.2 643.3L133.0 652.4M136.5 654.5L158.4 643.3M146.8 643.8L158.4 643.3L151.2 652.4M154.7 654.5L176.6 643.3M165.0 643.8L176.6 643.3L169.4 652.4M172.9 654.5L194.8 643.3M183.2 643.8L194.8 643.3L187.6 652.3M191.0 654.5L212.9 643.2M201.4 643.8L212.9 643.2L205.8 652.3M209.2 654.5L230.5 643.4M219.2 644.0L230.5 643.4L223.6 652.3M227.4 654.5L248.6 643.2M237.3 643.9L248.6 643.2L241.7 652.2M245.6 654.5L266.6 642.9M255.4 643.8L266.6 642.9L259.9 652.0M263.8 654.5L284.6 642.5M273.3 643.6L284.6 642.5L278.0 651.7M282.0 654.5L301.6 642.6M290.9 643.8L301.6 642.6L295.6 651.5M300.2 654.5L317.9 643.3M308.1 644.6L317.9 643.3L312.5 651.6M318.3 654.5L334.3 644.2M325.5 645.5L334.3 644.2L329.5 651.7M336.5 654.5L350.8 645.3M342.9 646.4L350.8 645.3L346.5 652.0M354.7 654.5L368.7 645.6M361.0 646.7L368.7 645.6L364.5 652.2M372.9 654.5L387.4 645.6M379.5 646.6L387.4 645.6L382.9 652.3M391.1 654.5L406.6 645.4M398.2 646.3L406.6 645.4L401.8 652.3M409.3 654.5L424.1 646.2M416.1 646.9L424.1 646.2L419.4 652.6M427.5 654.5L443.3 646.0M434.9 646.6L443.3 646.0L438.2 652.7M445.6 654.5L462.9 645.6M453.8 646.1L462.9 645.6L457.2 652.8M463.8 654.5L482.1 645.4M472.5 645.7L482.1 645.4L476.0 652.8M482.0 654.5L500.9 645.3M491.0 645.5L500.9 645.3L494.6 652.9M500.2 654.5L519.7 645.1M509.5 645.3L519.7 645.1L513.2 652.9M518.4 654.5L538.3 645.1M527.9 645.2L538.3 645.1L531.6 653.0M536.6 654.5L557.4 644.8M546.6 644.9L557.4 644.8L550.4 653.0M554.8 654.5L576.2 644.7M565.1 644.7L576.2 644.7L568.9 653.1M572.9 654.5L594.8 644.6M583.5 644.6L594.8 644.6L587.4 653.1M591.1 654.5L613.1 644.8M601.8 644.7L613.1 644.8L605.6 653.2M609.3 654.5L631.7 644.7M620.2 644.6L631.7 644.7L624.0 653.3M627.5 654.5L649.9 644.8M638.4 644.6L649.9 644.8L642.2 653.3M645.7 654.5L668.1 644.8M656.6 644.6L668.1 644.8L660.4 653.3M663.9 654.5L686.3 644.8M674.8 644.6L686.3 644.8L678.6 653.3M682.0 654.5L704.1 645.0M692.8 644.8L704.1 645.0L696.5 653.4M700.2 654.5L721.7 645.3M710.7 645.0L721.7 645.3L714.3 653.4M718.4 654.5L739.2 645.6M728.6 645.4L739.2 645.6L732.0 653.5M736.6 654.5L756.5 646.1M746.3 645.8L756.5 646.1L749.6 653.5M754.8 654.5L774.1 646.3M764.3 646.0L774.1 646.3L767.4 653.6M773.0 654.5L792.3 646.3M782.5 646.1L792.3 646.3L785.6 653.6M791.2 654.5L810.5 646.4M800.6 646.1L810.5 646.4L803.8 653.6M9.2 672.7L27.0 663.6M17.6 664.0L27.0 663.6L21.2 671.0M27.4 672.7L47.0 662.7M36.7 663.2L47.0 662.7L40.6 670.8M45.6 672.7L66.4 662.1M55.4 662.5L66.4 662.1L59.6 670.7M63.8 672.7L85.1 661.8M73.9 662.3L85.1 661.8L78.1 670.6M81.9 672.7L103.9 661.5M92.3 662.0L103.9 661.5L96.7 670.6M100.1 672.7L122.0 661.5M110.5 662.0L122.0 661.5L114.8 670.6M118.3 672.7L140.2 661.5M128.7 662.0L140.2 661.5L133.0 670.6M136.5 672.7L158.4 661.5M146.9 662.0L158.4 661.5L151.2 670.6M154.7 672.7L176.6 661.5M165.0 662.0L176.6 661.5L169.4 670.6M172.9 672.7L194.8 661.5M183.2 662.0L194.8 661.5L187.6 670.5M191.0 672.7L212.9 661.4M201.3 662.0L212.9 661.4L205.8 670.5M209.2 672.7L230.1 661.7M219.0 662.3L230.1 661.7L223.3 670.5M227.4 672.7L248.1 661.4M237.1 662.2L248.1 661.4L241.5 670.3M245.6 672.7L265.2 661.5M254.6 662.4L265.2 661.5L259.0 670.1M263.8 672.7L282.2 661.5M272.2 662.7L282.2 661.5L276.5 669.9M282.0 672.7L298.7 661.8M289.5 663.2L298.7 661.8L293.7 669.7M300.2 672.7L315.0 662.5M306.7 664.0L315.0 662.5L310.6 669.7M318.3 672.7L330.8 663.8M323.8 665.2L330.8 663.8L327.2 670.0M336.5 672.7L348.4 664.2M341.7 665.5L348.4 664.2L345.0 670.2M354.7 672.7L366.7 664.4M360.0 665.6L366.7 664.4L363.2 670.3M372.9 672.7L385.1 664.7M378.4 665.8L385.1 664.7L381.5 670.5M391.1 672.7L404.2 664.7M397.0 665.6L404.2 664.7L400.1 670.7M409.3 672.7L423.2 664.7M415.7 665.4L423.2 664.7L418.8 670.9M427.5 672.7L442.4 664.7M434.5 665.2L442.4 664.7L437.6 671.0M445.6 672.7L462.2 664.3M453.5 664.6L462.2 664.3L456.8 671.1M463.8 672.7L481.8 663.9M472.4 664.2L481.8 663.9L475.8 671.2M482.0 672.7L501.0 663.7M491.1 663.8L501.0 663.7L494.6 671.2M500.2 672.7L519.8 663.6M509.7 663.7L519.8 663.6L513.2 671.3M518.4 672.7L538.8 663.5M528.3 663.4L538.8 663.5L531.9 671.4M536.6 672.7L557.6 663.4M546.8 663.3L557.6 663.4L550.4 671.5M554.8 672.7L576.4 663.3M565.3 663.1L576.4 663.3L569.0 671.6M572.9 672.7L595.0 663.3M583.8 663.0L595.0 663.3L587.4 671.6M591.1 672.7L613.3 663.5M602.0 663.1L613.3 663.5L605.6 671.8M609.3 672.7L631.9 663.5M620.5 663.0L631.9 663.5L624.0 671.9M627.5 672.7L650.1 663.6M638.7 663.1L650.1 663.6L642.2 671.9M645.7 672.7L668.3 663.6M656.9 663.1L668.3 663.6L660.4 671.9M663.9 672.7L686.5 663.7M675.1 663.1L686.5 663.7L678.6 671.9M682.0 672.7L704.4 663.9M693.1 663.3L704.4 663.9L696.5 672.0M700.2 672.7L722.6 663.9M711.3 663.3L722.6 663.9L714.7 672.0M718.4 672.7L740.2 664.1M729.2 663.6L740.2 664.1L732.5 672.0M736.6 672.7L757.7 664.5M747.1 663.9L757.7 664.5L750.3 672.1M754.8 672.7L775.3 664.7M765.0 664.1L775.3 664.7L768.1 672.1M773.0 672.7L793.1 664.9M783.0 664.3L793.1 664.9L786.0 672.2M791.2 672.7L811.3 664.9M801.2 664.3L811.3 664.9L804.2 672.2M9.2 690.9L27.9 681.3M18.1 681.8L27.9 681.3L21.8 689.1M27.4 690.9L47.9 680.4M37.1 680.9L47.9 680.4L41.1 688.9M45.6 690.9L66.5 680.0M55.5 680.6L66.5 680.0L59.7 688.8M63.8 690.9L85.1 679.8M73.8 680.4L85.1 679.8L78.1 688.7M81.9 690.9L103.2 679.8M91.9 680.4L103.2 679.8L96.3 688.7M100.1 690.9L121.4 679.7M110.1 680.3L121.4 679.7L114.5 688.6M118.3 690.9L139.5 679.6M128.3 680.3L139.5 679.6L132.6 688.6M136.5 690.9L157.7 679.6M146.4 680.3L157.7 679.6L150.8 688.5M154.7 690.9L175.8 679.5M164.6 680.3L175.8 679.5L169.0 688.5M172.9 690.9L194.0 679.4M182.7 680.2L194.0 679.4L187.2 688.4M191.0 690.9L212.1 679.3M200.8 680.1L212.1 679.3L205.3 688.3M209.2 690.9L229.2 679.5M218.5 680.5L229.2 679.5L222.9 688.2M227.4 690.9L246.4 679.7M236.1 680.8L246.4 679.7L240.4 688.2M245.6 690.9L263.5 679.8M253.7 681.1L263.5 679.8L258.0 688.0M263.8 690.9L280.5 679.8M271.2 681.3L280.5 679.8L275.5 687.8M282.0 690.9L297.1 680.0M288.5 681.7L297.1 680.0L292.7 687.6M300.2 690.9L312.9 681.2M305.6 682.8L312.9 681.2L309.3 687.8M318.3 690.9L329.6 682.0M323.1 683.6L329.6 682.0L326.5 688.0M336.5 690.9L347.3 682.5M341.0 684.0L347.3 682.5L344.3 688.2M354.7 690.9L365.6 682.7M359.4 684.1L365.6 682.7L362.6 688.4M372.9 690.9L384.4 683.0M377.9 684.1L384.4 683.0L381.0 688.6M391.1 690.9L403.5 683.2M396.7 684.0L403.5 683.2L399.7 688.9M409.3 690.9L423.5 682.8M415.8 683.5L423.5 682.8L419.0 689.0M427.5 690.9L442.9 682.8M434.7 683.2L442.9 682.8L437.9 689.3M445.6 690.9L462.7 682.5M453.8 682.8L462.7 682.5L457.0 689.4M463.8 690.9L482.3 682.2M472.7 682.3L482.3 682.2L476.1 689.5M482.0 690.9L501.5 682.1M491.5 682.0L501.5 682.1L494.9 689.6M500.2 690.9L520.3 682.0M510.0 681.9L520.3 682.0L513.4 689.7M518.4 690.9L539.5 681.8M528.7 681.6L539.5 681.8L532.2 689.8M536.6 690.9L558.3 681.8M547.3 681.4L558.3 681.8L550.8 689.9M554.8 690.9L577.0 681.8M565.7 681.3L577.0 681.8L569.2 690.0M572.9 690.9L595.6 681.8M584.1 681.3L595.6 681.8L587.7 690.1M591.1 690.9L613.9 682.0M602.4 681.4L613.9 682.0L605.9 690.2M609.3 690.9L632.3 682.1M620.8 681.4L632.3 682.1L624.2 690.4M627.5 690.9L650.5 682.2M639.0 681.4L650.5 682.2L642.4 690.4M645.7 690.9L668.7 682.2M657.2 681.4L668.7 682.2L660.5 690.4M663.9 690.9L686.7 682.3M675.3 681.5L686.7 682.3L678.6 690.4M682.0 690.9L704.5 682.5M693.3 681.7L704.5 682.5L696.5 690.5M700.2 690.9L722.7 682.5M711.5 681.7L722.7 682.5L714.7 690.5M718.4 690.9L740.6 682.7M729.5 681.9L740.6 682.7L732.7 690.5M736.6 690.9L758.6 682.8M747.6 682.0L758.6 682.8L750.7 690.6M754.8 690.9L776.4 683.0M765.6 682.2L776.4 683.0L768.7 690.6M773.0 690.9L794.2 683.2M783.6 682.3L794.2 683.2L786.6 690.6M791.2 690.9L812.4 683.2M801.8 682.3L812.4 683.2L804.8 690.6M9.2 709.1L27.9 699.5M18.1 699.9L27.9 699.5L21.8 707.2M27.4 709.1L47.8 698.5M37.0 699.0L47.8 698.5L41.1 707.0M45.6 709.1L66.5 698.1M55.4 698.7L66.5 698.1L59.7 706.9M63.8 709.1L85.0 697.8M73.7 698.5L85.0 697.8L78.1 706.8M81.9 709.1L103.1 697.7M91.8 698.4L103.1 697.7L96.3 706.7M100.1 709.1L121.2 697.6M110.0 698.4L121.2 697.6L114.4 706.6M118.3 709.1L139.4 697.5M128.1 698.3L139.4 697.5L132.6 706.5M136.5 709.1L157.5 697.4M146.2 698.3L157.5 697.4L150.8 706.5M154.7 709.1L175.6 697.3M164.3 698.2L175.6 697.3L168.9 706.4M172.9 709.1L192.8 697.6M182.0 698.6L192.8 697.6L186.5 706.4M191.0 709.1L210.0 697.9M199.7 699.0L210.0 697.9L204.1 706.4M209.2 709.1L227.1 698.1M217.3 699.3L227.1 698.1L221.6 706.3M227.4 709.1L243.5 698.9M234.6 700.1L243.5 698.9L238.6 706.4M245.6 709.1L260.6 699.1M252.3 700.4L260.6 699.1L256.1 706.3M263.8 709.1L277.6 699.2M269.8 700.7L277.6 699.2L273.6 706.1M282.0 709.1L294.6 699.3M287.3 701.0L294.6 699.3L291.1 705.9M300.2 709.1L311.4 699.8M304.8 701.5L311.4 699.8L308.4 705.9M318.3 709.1L327.6 701.1M322.1 702.7L327.6 701.1L325.2 706.3M336.5 709.1L345.4 701.6M340.2 703.1L345.4 701.6L343.1 706.5M354.7 709.1L363.8 701.9M358.5 703.2L363.8 701.9L361.3 706.7M372.9 709.1L382.9 702.0M377.2 703.1L382.9 702.0L380.0 707.0M391.1 709.1L403.4 701.3M396.6 702.2L403.4 701.3L399.7 707.0M409.3 709.1L424.1 700.7M416.1 701.4L424.1 700.7L419.4 707.2M427.5 709.1L443.9 700.7M435.2 701.1L443.9 700.7L438.5 707.5M445.6 709.1L463.7 700.5M454.3 700.6L463.7 700.5L457.7 707.7M463.8 709.1L483.4 700.3M473.3 700.2L483.4 700.3L476.7 707.9M482.0 709.1L502.6 700.2M492.1 700.0L502.6 700.2L495.5 708.0M500.2 709.1L521.8 700.0M510.8 699.7L521.8 700.0L514.3 708.1M518.4 709.1L540.6 700.0M529.3 699.6L540.6 700.0L532.9 708.2M536.6 709.1L559.4 700.0M547.9 699.4L559.4 700.0L551.4 708.3M554.8 709.1L578.1 700.1M566.3 699.4L578.1 700.1L569.9 708.5M572.9 709.1L596.3 700.3M584.6 699.5L596.3 700.3L588.0 708.6M591.1 709.1L614.6 700.5M602.9 699.6L614.6 700.5L606.2 708.7M609.3 709.1L633.2 700.5M621.3 699.5L633.2 700.5L624.7 708.8M627.5 709.1L651.4 700.6M639.5 699.5L651.4 700.6L642.8 708.9M645.7 709.1L669.6 700.6M657.7 699.6L669.6 700.6L661.0 708.9M663.9 709.1L687.1 700.9M675.6 699.9L687.1 700.9L678.7 708.9M682.0 709.1L705.1 701.0M693.7 700.0L705.1 701.0L696.8 709.0M700.2 709.1L722.9 701.2M711.7 700.1L722.9 701.2L714.7 709.0M718.4 709.1L741.1 701.2M729.9 700.2L741.1 701.2L732.9 709.0M736.6 709.1L758.9 701.4M747.9 700.3L758.9 701.4L750.9 709.0M754.8 709.1L776.9 701.5M766.0 700.4L776.9 701.5L768.9 709.1M773.0 709.1L795.1 701.6M784.2 700.4L795.1 701.6L787.1 709.1M791.2 709.1L813.3 701.6M802.4 700.5L813.3 701.6L805.3 709.1M9.2 727.2L27.0 718.2M17.6 718.6L27.0 718.2L21.2 725.5M27.4 727.2L46.9 717.1M36.6 717.6L46.9 717.1L40.5 725.2M45.6 727.2L65.5 716.7M54.9 717.3L65.5 716.7L59.1 725.1M63.8 727.2L84.0 716.3M73.2 717.0L84.0 716.3L77.5 724.9M81.9 727.2L102.1 716.2M91.3 717.0L102.1 716.2L95.6 724.8M100.1 727.2L120.2 716.0M109.4 716.9L120.2 716.0L113.8 724.7M118.3 727.2L138.3 715.9M127.5 716.8L138.3 715.9L132.0 724.6M136.5 727.2L156.4 715.7M145.6 716.8L156.4 715.7L150.1 724.5M154.7 727.2L173.6 716.0M163.3 717.1L173.6 716.0L167.7 724.5M172.9 727.2L190.8 716.4M181.0 717.5L190.8 716.4L185.3 724.5M191.0 727.2L207.5 717.0M198.5 718.1L207.5 717.0L202.5 724.6M209.2 727.2L225.1 716.8M216.3 718.2L225.1 716.8L220.4 724.4M227.4 727.2L241.2 718.0M233.5 719.3L241.2 718.0L237.1 724.7M245.6 727.2L257.6 718.9M250.8 720.1L257.6 718.9L254.1 724.8M263.8 727.2L274.4 719.3M268.3 720.7L274.4 719.3L271.4 724.8M282.0 727.2L291.2 719.8M285.8 721.2L291.2 719.8L288.7 724.8M300.2 727.2L309.0 719.7M303.7 721.2L309.0 719.7L306.7 724.6M318.3 727.2L327.2 719.4M321.9 721.0L327.2 719.4L324.9 724.5M336.5 727.2L345.8 719.3M340.3 720.9L345.8 719.3L343.4 724.5M354.7 727.2L364.7 719.3M358.9 720.7L364.7 719.3L362.0 724.6M372.9 727.2L384.2 719.2M377.8 720.4L384.2 719.2L381.0 724.8M391.1 727.2L404.7 718.8M397.2 719.8L404.7 718.8L400.5 725.1M409.3 727.2L426.0 718.2M417.1 718.8L426.0 718.2L420.6 725.3M427.5 727.2L445.4 718.4M436.0 718.7L445.4 718.4L439.4 725.7M445.6 727.2L464.8 718.6M454.9 718.6L464.8 718.6L458.3 726.0M463.8 727.2L484.4 718.5M473.9 718.2L484.4 718.5L477.3 726.2M482.0 727.2L503.7 718.4M492.7 717.9L503.7 718.4L496.1 726.4M500.2 727.2L522.5 718.4M511.3 717.8L522.5 718.4L514.7 726.5M518.4 727.2L541.3 718.4M529.8 717.7L541.3 718.4L533.2 726.7M536.6 727.2L560.4 718.4M548.5 717.5L560.4 718.4L551.9 726.8M554.8 727.2L579.2 718.4M567.0 717.4L579.2 718.4L570.5 726.9M572.9 727.2L597.5 718.6M585.3 717.5L597.5 718.6L588.7 727.1M591.1 727.2L615.3 718.9M603.4 717.8L615.3 718.9L606.6 727.2M609.3 727.2L634.0 719.0M621.8 717.7L634.0 719.0L625.0 727.3M627.5 727.2L652.2 719.1M640.0 717.8L652.2 719.1L643.2 727.4M645.7 727.2L670.4 719.1M658.2 717.8L670.4 719.1L661.4 727.4M663.9 727.2L688.0 719.3M676.1 718.0L688.0 719.3L679.2 727.4M682.0 727.2L705.4 719.6M694.0 718.3L705.4 719.6L696.9 727.4M700.2 727.2L723.4 719.7M712.1 718.4L723.4 719.7L715.0 727.5M718.4 727.2L741.3 719.9M730.1 718.6L741.3 719.9L732.9 727.5M736.6 727.2L759.5 719.9M748.3 718.6L759.5 719.9L751.1 727.5M754.8 727.2L777.7 720.0M766.5 718.6L777.7 720.0L769.3 727.5M773.0 727.2L795.9 720.0M784.7 718.6L795.9 720.0L787.5 727.6M791.2 727.2L814.1 720.1M802.9 718.7L814.1 720.1L805.7 727.6M9.2 745.4L26.1 736.8M17.2 737.2L26.1 736.8L20.6 743.8M27.4 745.4L46.0 735.7M36.1 736.2L46.0 735.7L39.9 743.5M45.6 745.4L64.6 735.2M54.5 735.9L64.6 735.2L58.5 743.3M63.8 745.4L83.0 734.8M72.7 735.6L83.0 734.8L76.9 743.1M81.9 745.4L101.1 734.6M90.8 735.5L101.1 734.6L95.0 743.0M100.1 745.4L119.2 734.4M108.9 735.4L119.2 734.4L113.2 742.9M118.3 745.4L137.3 734.3M127.0 735.3L137.3 734.3L131.3 742.7M136.5 745.4L154.5 734.6M144.7 735.7L154.5 734.6L148.9 742.7M154.7 745.4L171.7 734.9M162.4 736.1L171.7 734.9L166.5 742.7M172.9 745.4L188.1 735.8M179.7 736.9L188.1 735.8L183.4 742.8M191.0 745.4L204.4 736.6M197.0 737.8L204.4 736.6L200.4 743.0M209.2 745.4L221.8 736.7M214.7 738.0L221.8 736.7L218.1 742.9M227.4 745.4L238.2 737.9M232.1 739.0L238.2 737.9L235.1 743.2M245.6 745.4L255.5 738.3M249.9 739.4L255.5 738.3L252.7 743.3M263.8 745.4L273.0 738.4M267.7 739.6L273.0 738.4L270.4 743.2M282.0 745.4L291.1 738.0M285.8 739.4L291.1 738.0L288.7 743.0M300.2 745.4L309.5 737.5M303.9 739.1L309.5 737.5L307.0 742.7M318.3 745.4L328.3 736.8M322.4 738.5L328.3 736.8L325.7 742.4M336.5 745.4L347.7 736.1M341.1 737.9L347.7 736.1L344.8 742.2M354.7 745.4L367.2 735.8M360.0 737.5L367.2 735.8L363.7 742.4M372.9 745.4L387.0 735.8M379.1 737.2L387.0 735.8L382.8 742.7M391.1 745.4L407.4 735.7M398.6 736.7L407.4 735.7L402.3 743.1M409.3 745.4L427.9 735.8M418.1 736.3L427.9 735.8L421.8 743.5M427.5 745.4L447.4 736.1M437.1 736.2L447.4 736.1L440.7 744.0M445.6 745.4L466.8 736.4M456.0 736.1L466.8 736.4L459.5 744.3M463.8 745.4L485.7 736.6M474.6 736.1L485.7 736.6L478.1 744.6M482.0 745.4L504.4 736.8M493.1 736.1L504.4 736.8L496.5 744.8M500.2 745.4L523.2 736.8M511.7 736.0L523.2 736.8L515.1 745.0M518.4 745.4L542.3 736.8M530.4 735.8L542.3 736.8L533.7 745.1M536.6 745.4L561.1 736.8M548.9 735.7L561.1 736.8L552.3 745.3M554.8 745.4L579.9 736.9M567.5 735.6L579.9 736.9L570.8 745.4M572.9 745.4L598.2 737.1M585.8 735.7L598.2 737.1L589.0 745.6M591.1 745.4L615.9 737.5M603.8 736.1L615.9 737.5L606.8 745.7M609.3 745.4L634.5 737.6M622.2 736.0L634.5 737.6L625.3 745.9M627.5 745.4L652.7 737.7M640.4 736.1L652.7 737.7L643.4 745.9M645.7 745.4L670.9 737.7M658.6 736.1L670.9 737.7L661.6 745.9M663.9 745.4L688.7 737.9M676.6 736.2L688.7 737.9L679.6 745.9M682.0 745.4L706.0 738.2M694.3 736.6L706.0 738.2L697.2 745.9M700.2 745.4L723.6 738.4M712.2 736.8L723.6 738.4L715.0 746.0M718.4 745.4L741.4 738.6M730.2 737.0L741.4 738.6L732.9 746.0M736.6 745.4L759.6 738.6M748.4 737.0L759.6 738.6L751.1 746.0M754.8 745.4L777.8 738.6M766.6 737.1L777.8 738.6L769.3 746.0M773.0 745.4L796.4 738.6M785.0 736.9L796.4 738.6L787.7 746.1M791.2 745.4L814.6 738.6M803.2 737.0L814.6 738.6L805.9 746.1M9.2 763.6L25.2 755.4M16.8 755.8L25.2 755.4L20.0 762.0M27.4 763.6L44.2 754.8M35.3 755.3L44.2 754.8L38.7 761.8M45.6 763.6L62.8 754.3M53.6 754.9L62.8 754.3L57.3 761.6M63.8 763.6L81.2 753.8M71.8 754.6L81.2 753.8L75.6 761.4M81.9 763.6L99.3 753.6M89.9 754.5L99.3 753.6L93.8 761.3M100.1 763.6L117.3 753.4M108.0 754.4L117.3 753.4L112.0 761.1M118.3 763.6L134.5 753.7M125.7 754.8L134.5 753.7L129.5 761.1M136.5 763.6L151.7 754.0M143.4 755.2L151.7 754.0L147.1 761.1M154.7 763.6L169.0 754.4M161.1 755.5L169.0 754.4L164.6 761.1M172.9 763.6L185.6 755.1M178.5 756.3L185.6 755.1L181.8 761.2M191.0 763.6L203.0 755.3M196.3 756.5L203.0 755.3L199.5 761.2M209.2 763.6L220.5 755.4M214.1 756.7L220.5 755.4L217.3 761.1M227.4 763.6L237.3 756.4M231.7 757.6L237.3 756.4L234.5 761.4M245.6 763.6L255.4 756.4M249.8 757.6L255.4 756.4L252.6 761.4M263.8 763.6L274.0 755.9M268.1 757.2L274.0 755.9L271.1 761.2M282.0 763.6L292.3 755.4M286.3 756.9L292.3 755.4L289.5 761.0M300.2 763.6L311.0 754.9M304.6 756.5L311.0 754.9L308.0 760.7M318.3 763.6L330.2 754.0M323.3 755.8L330.2 754.0L327.0 760.4M336.5 763.6L350.0 753.2M342.2 755.0L350.0 753.2L346.2 760.3M354.7 763.6L370.2 752.6M361.4 754.3L370.2 752.6L365.7 760.3M372.9 763.6L390.7 752.4M380.9 753.7L390.7 752.4L385.2 760.6M391.1 763.6L410.4 753.0M400.0 753.8L410.4 753.0L404.2 761.3M409.3 763.6L430.0 753.6M419.2 753.9L430.0 753.6L423.1 761.9M427.5 763.6L449.1 754.2M438.0 754.0L449.1 754.2L441.7 762.4M445.6 763.6L467.9 754.6M456.6 754.1L467.9 754.6L460.1 762.8M463.8 763.6L486.6 754.9M475.2 754.2L486.6 754.9L478.6 763.1M482.0 763.6L505.1 755.2M493.6 754.3L505.1 755.2L496.9 763.3M500.2 763.6L523.8 755.3M512.1 754.3L523.8 755.3L515.3 763.5M518.4 763.6L542.6 755.4M530.6 754.2L542.6 755.4L533.9 763.6M536.6 763.6L561.6 755.4M549.3 754.0L561.6 755.4L552.5 763.8M554.8 763.6L580.5 755.4M567.9 753.9L580.5 755.4L571.1 763.9M572.9 763.6L598.4 755.8M586.0 754.2L598.4 755.8L589.0 764.1M591.1 763.6L616.0 756.2M603.9 754.5L616.0 756.2L606.8 764.2M609.3 763.6L634.7 756.3M622.4 754.5L634.7 756.3L625.2 764.4M627.5 763.6L652.9 756.4M640.6 754.5L652.9 756.4L643.4 764.4M645.7 763.6L670.7 756.5M658.6 754.7L670.7 756.5L661.4 764.4M663.9 763.6L688.5 756.7M676.6 754.8L688.5 756.7L679.3 764.4M682.0 763.6L706.1 756.9M694.5 755.1L706.1 756.9L697.1 764.4M700.2 763.6L723.7 757.1M712.4 755.3L723.7 757.1L715.0 764.5M718.4 763.6L741.6 757.2M730.4 755.4L741.6 757.2L732.9 764.5M736.6 763.6L759.7 757.3M748.6 755.5L759.7 757.3L751.1 764.5M754.8 763.6L778.3 757.2M767.0 755.3L778.3 757.2L769.5 764.5M773.0 763.6L796.7 757.2M785.3 755.3L796.7 757.2L787.8 764.6M791.2 763.6L814.9 757.2M803.5 755.3L814.9 757.2L806.0 764.6" fill="none" stroke="#fff" stroke-width="1" shape-rendering="crispEdges"/>
<g fill="none" stroke="#000" stroke-width="1" shape-rendering="crispEdges">
<path d="M240.5 28.5L234.5 32.5M234.5 32.5L236.5 40.5M236.5 40.5L234.5 52.5M234.5 52.5L228.5 63.5M228.5 63.5L223.5 69.5M223.5 69.5L229.5 75.5M229.5 75.5L224.5 94.5M224.5 94.5L212.5 101.5M212.5 101.5L217.5 108.5M217.5 108.5L214.5 120.5M214.5 120.5L220.5 130.5M220.5 130.5L212.5 143.5"/>
<path d="M212.5 143.5L214.5 160.5M214.5 160.5L214.5 168.5M214.5 168.5L217.5 174.5M217.5 174.5L216.5 184.5M216.5 184.5L212.5 187.5M212.5 187.5L197.5 187.5M197.5 187.5L196.5 190.5M196.5 190.5L197.5 202.5M197.5 202.5L191.5 208.5M191.5 208.5L188.5 218.5M188.5 218.5L188.5 234.5M188.5 234.5L194.5 246.5M194.5 246.5L195.5 255.5M195.5 255.5L199.5 258.5M199.5 258.5L200.5 266.5M200.5 266.5L196.5 273.5M196.5 273.5L186.5 275.5M186.5 275.5L194.5 280.5M194.5 280.5L190.5 286.5M190.5 286.5L193.5 292.5M193.5 292.5L202.5 298.5M202.5 298.5L213.5 307.5M213.5 307.5L220.5 311.5M220.5 311.5L234.5 315.5M234.5 315.5L244.5 320.5M244.5 320.5L252.5 322.5M252.5 322.5L271.5 334.5M271.5 334.5L287.5 350.5M287.5 350.5L291.5 360.5M291.5 360.5L283.5 369.5M283.5 369.5L275.5 378.5M275.5 378.5L272.5 390.5M272.5 390.5L275.5 402.5M275.5 402.5L284.5 413.5M284.5 413.5L296.5 423.5M296.5 423.5L305.5 427.5M305.5 427.5L315.5 423.5M315.5 423.5L320.5 426.5M320.5 426.5L323.5 438.5M323.5 438.5L325.5 454.5M325.5 454.5L324.5 465.5M324.5 465.5L315.5 476.5M315.5 476.5L305.5 487.5M305.5 487.5L298.5 499.5M298.5 499.5L287.5 512.5M287.5 512.5L274.5 521.5M274.5 521.5L264.5 531.5M264.5 531.5L261.5 542.5M261.5 542.5L261.5 551.5M261.5 551.5L254.5 557.5M254.5 557.5L235.5 566.5M235.5 566.5L216.5 575.5M216.5 575.5L202.5 580.5M202.5 580.5L188.5 584.5M188.5 584.5L180.5 586.5M180.5 586.5L160.5 592.5M160.5 592.5L127.5 598.5M127.5 598.5L100.5 605.5M100.5 605.5L81.5 609.5M81.5 609.5L33.5 616.5M33.5 616.5L19.5 616.5M19.5 616.5L8.5 618.5M8.5 618.5L0.5 619.5"/>
<path d="M212.5 143.5L217.5 158.5M217.5 158.5L218.5 169.5M218.5 169.5L224.5 175.5M224.5 175.5L222.5 182.5M222.5 182.5L217.5 188.5M217.5 188.5L202.5 190.5M202.5 190.5L200.5 192.5M200.5 192.5L202.5 204.5M202.5 204.5L197.5 210.5M197.5 210.5L200.5 215.5M200.5 215.5L196.5 220.5M196.5 220.5L196.5 240.5M196.5 240.5L198.5 249.5M198.5 249.5L205.5 254.5M205.5 254.5L212.5 263.5M212.5 263.5L222.5 271.5M222.5 271.5L230.5 278.5M230.5 278.5L234.5 285.5M234.5 285.5L239.5 289.5M239.5 289.5L254.5 286.5M254.5 286.5L272.5 285.5M272.5 285.5L286.5 286.5M286.5 286.5L292.5 289.5M292.5 289.5L300.5 296.5M300.5 296.5L310.5 303.5M310.5 303.5L320.5 306.5M320.5 306.5L330.5 308.5M330.5 308.5L342.5 312.5M342.5 312.5L345.5 317.5M345.5 317.5L355.5 320.5M355.5 320.5L360.5 322.5M360.5 322.5L372.5 316.5M372.5 316.5L385.5 311.5M385.5 311.5L400.5 310.5M400.5 310.5L416.5 312.5M416.5 312.5L426.5 318.5M426.5 318.5L436.5 318.5M436.5 318.5L445.5 320.5M445.5 320.5L449.5 324.5M449.5 324.5L469.5 316.5M469.5 316.5L491.5 308.5M491.5 308.5L499.5 304.5M499.5 304.5L494.5 301.5M494.5 301.5L496.5 296.5M496.5 296.5L499.5 298.5M499.5 298.5L500.5 302.5M500.5 302.5L509.5 300.5M509.5 300.5L521.5 290.5M521.5 290.5L535.5 282.5M535.5 282.5L535.5 278.5M535.5 278.5L544.5 265.5M544.5 265.5L553.5 258.5M553.5 258.5L554.5 248.5M554.5 248.5L562.5 236.5M562.5 236.5L582.5 224.5M582.5 224.5L599.5 208.5M599.5 208.5L612.5 196.5M612.5 196.5L617.5 190.5M617.5 190.5L624.5 180.5M624.5 180.5L630.5 165.5M630.5 165.5L634.5 151.5M634.5 151.5L638.5 139.5M638.5 139.5L648.5 126.5M648.5 126.5L658.5 120.5M658.5 120.5L672.5 106.5M672.5 106.5L688.5 93.5M688.5 93.5L704.5 83.5M704.5 83.5L721.5 72.5M721.5 72.5L737.5 60.5M737.5 60.5L751.5 46.5M751.5 46.5L765.5 28.5"/>
<path d="M408.5 28.5L416.5 36.5M416.5 36.5L422.5 48.5M422.5 48.5L428.5 54.5M428.5 54.5L438.5 58.5M438.5 58.5L441.5 55.5M441.5 55.5L448.5 61.5M448.5 61.5L458.5 68.5M458.5 68.5L466.5 69.5M466.5 69.5L480.5 75.5M480.5 75.5L491.5 89.5M491.5 89.5L507.5 102.5M507.5 102.5L513.5 100.5M513.5 100.5L521.5 105.5M521.5 105.5L529.5 111.5M529.5 111.5L536.5 114.5M536.5 114.5L538.5 122.5M538.5 122.5L543.5 127.5M543.5 127.5L544.5 136.5M544.5 136.5L554.5 145.5M554.5 145.5L565.5 152.5M565.5 152.5L576.5 155.5M576.5 155.5L583.5 162.5M583.5 162.5L572.5 171.5M572.5 171.5L568.5 180.5M568.5 180.5L557.5 185.5M557.5 185.5L552.5 193.5M552.5 193.5L553.5 207.5M553.5 207.5L552.5 218.5M552.5 218.5L555.5 226.5M555.5 226.5L561.5 236.5"/>
<path d="M702.5 28.5L701.5 36.5M701.5 36.5L704.5 42.5M704.5 42.5L690.5 47.5M690.5 47.5L690.5 53.5M690.5 53.5L676.5 56.5M676.5 56.5L666.5 62.5M666.5 62.5L664.5 65.5M664.5 65.5L662.5 74.5M662.5 74.5L660.5 76.5M660.5 76.5L657.5 78.5M657.5 78.5L658.5 80.5M658.5 80.5L662.5 80.5M662.5 80.5L662.5 76.5M662.5 76.5L662.5 83.5M662.5 83.5L654.5 87.5M654.5 87.5L648.5 92.5M648.5 92.5L648.5 97.5M648.5 97.5L645.5 98.5M645.5 98.5L653.5 104.5M653.5 104.5L647.5 106.5M647.5 106.5L645.5 112.5M645.5 112.5L647.5 115.5M647.5 115.5L651.5 113.5M651.5 113.5L656.5 111.5M656.5 111.5L654.5 116.5M654.5 116.5L657.5 120.5"/>
<path d="M663.5 107.5L662.5 102.5M662.5 102.5L658.5 97.5M658.5 97.5L665.5 97.5M665.5 97.5L670.5 98.5M670.5 98.5L677.5 95.5M677.5 95.5L682.5 93.5M682.5 93.5L690.5 88.5M690.5 88.5L698.5 81.5M698.5 81.5L703.5 78.5M703.5 78.5L704.5 73.5M704.5 73.5L707.5 75.5M707.5 75.5L714.5 72.5M714.5 72.5L721.5 66.5M721.5 66.5L724.5 59.5M724.5 59.5L725.5 42.5M725.5 42.5L735.5 41.5M735.5 41.5L736.5 45.5M736.5 45.5L739.5 42.5M739.5 42.5L738.5 30.5M738.5 30.5L738.5 28.5"/>
<path d="M372.5 42.5L380.5 42.5M380.5 42.5L386.5 39.5M386.5 39.5L390.5 34.5M390.5 34.5L395.5 32.5M395.5 32.5L398.5 32.5M398.5 32.5L399.5 28.5"/>
</g>
<path d="M800 27.5H0.5V773M1.5 28V33M1.5 772V767M9.5 28V45M9.5 772V755M16.5 28V33M16.5 772V767M23.5 28V33M23.5 772V767M31.5 28V33M31.5 772V767M38.5 28V33M38.5 772V767M45.5 28V37M45.5 772V763M52.5 28V33M52.5 772V767M60.5 28V33M60.5 772V767M67.5 28V33M67.5 772V767M74.5 28V33M74.5 772V767M81.5 28V45M81.5 772V755M89.5 28V33M89.5 772V767M96.5 28V33M96.5 772V767M103.5 28V33M103.5 772V767M111.5 28V33M111.5 772V767M118.5 28V37M118.5 772V763M125.5 28V33M125.5 772V767M132.5 28V33M132.5 772V767M140.5 28V33M140.5 772V767M147.5 28V33M147.5 772V767M154.5 28V45M154.5 772V755M161.5 28V33M161.5 772V767M169.5 28V33M169.5 772V767M176.5 28V33M176.5 772V767M183.5 28V33M183.5 772V767M191.5 28V37M191.5 772V763M198.5 28V33M198.5 772V767M205.5 28V33M205.5 772V767M212.5 28V33M212.5 772V767M220.5 28V33M220.5 772V767M227.5 28V45M227.5 772V755M234.5 28V33M234.5 772V767M241.5 28V33M241.5 772V767M249.5 28V33M249.5 772V767M256.5 28V33M256.5 772V767M263.5 28V37M263.5 772V763M271.5 28V33M271.5 772V767M278.5 28V33M278.5 772V767M285.5 28V33M285.5 772V767M292.5 28V33M292.5 772V767M300.5 28V45M300.5 772V755M307.5 28V33M307.5 772V767M314.5 28V33M314.5 772V767M321.5 28V33M321.5 772V767M329.5 28V33M329.5 772V767M336.5 28V37M336.5 772V763M343.5 28V33M343.5 772V767M351.5 28V33M351.5 772V767M358.5 28V33M358.5 772V767M365.5 28V33M365.5 772V767M372.5 28V45M372.5 772V755M380.5 28V33M380.5 772V767M387.5 28V33M387.5 772V767M394.5 28V33M394.5 772V767M401.5 28V33M401.5 772V767M409.5 28V37M409.5 772V763M416.5 28V33M416.5 772V767M423.5 28V33M423.5 772V767M431.5 28V33M431.5 772V767M438.5 28V33M438.5 772V767M445.5 28V45M445.5 772V755M452.5 28V33M452.5 772V767M460.5 28V33M460.5 772V767M467.5 28V33M467.5 772V767M474.5 28V33M474.5 772V767M482.5 28V37M482.5 772V763M489.5 28V33M489.5 772V767M496.5 28V33M496.5 772V767M503.5 28V33M503.5 772V767M511.5 28V33M511.5 772V767M518.5 28V45M518.5 772V755M525.5 28V33M525.5 772V767M532.5 28V33M532.5 772V767M540.5 28V33M540.5 772V767M547.5 28V33M547.5 772V767M554.5 28V37M554.5 772V763M562.5 28V33M562.5 772V767M569.5 28V33M569.5 772V767M576.5 28V33M576.5 772V767M583.5 28V33M583.5 772V767M591.5 28V45M591.5 772V755M598.5 28V33M598.5 772V767M605.5 28V33M605.5 772V767M612.5 28V33M612.5 772V767M620.5 28V33M620.5 772V767M627.5 28V37M627.5 772V763M634.5 28V33M634.5 772V767M642.5 28V33M642.5 772V767M649.5 28V33M649.5 772V767M656.5 28V33M656.5 772V767M663.5 28V45M663.5 772V755M671.5 28V33M671.5 772V767M678.5 28V33M678.5 772V767M685.5 28V33M685.5 772V767M692.5 28V33M692.5 772V767M700.5 28V37M700.5 772V763M707.5 28V33M707.5 772V767M714.5 28V33M714.5 772V767M722.5 28V33M722.5 772V767M729.5 28V33M729.5 772V767M736.5 28V45M736.5 772V755M743.5 28V33M743.5 772V767M751.5 28V33M751.5 772V767M758.5 28V33M758.5 772V767M765.5 28V33M765.5 772V767M772.5 28V37M772.5 772V763M780.5 28V33M780.5 772V767M787.5 28V33M787.5 772V767M794.5 28V33M794.5 772V767M0 29.5H5M800 29.5H795M0 36.5H18M800 36.5H782M0 43.5H5M800 43.5H795M0 50.5H5M800 50.5H795M0 58.5H5M800 58.5H795M0 65.5H5M800 65.5H795M0 72.5H9M800 72.5H791M0 79.5H5M800 79.5H795M0 87.5H5M800 87.5H795M0 94.5H5M800 94.5H795M0 101.5H5M800 101.5H795M0 109.5H18M800 109.5H782M0 116.5H5M800 116.5H795M0 123.5H5M800 123.5H795M0 130.5H5M800 130.5H795M0 138.5H5M800 138.5H795M0 145.5H9M800 145.5H791M0 152.5H5M800 152.5H795M0 159.5H5M800 159.5H795M0 167.5H5M800 167.5H795M0 174.5H5M800 174.5H795M0 181.5H18M800 181.5H782M0 189.5H5M800 189.5H795M0 196.5H5M800 196.5H795M0 203.5H5M800 203.5H795M0 210.5H5M800 210.5H795M0 218.5H9M800 218.5H791M0 225.5H5M800 225.5H795M0 232.5H5M800 232.5H795M0 239.5H5M800 239.5H795M0 247.5H5M800 247.5H795M0 254.5H18M800 254.5H782M0 261.5H5M800 261.5H795M0 269.5H5M800 269.5H795M0 276.5H5M800 276.5H795M0 283.5H5M800 283.5H795M0 290.5H9M800 290.5H791M0 298.5H5M800 298.5H795M0 305.5H5M800 305.5H795M0 312.5H5M800 312.5H795M0 319.5H5M800 319.5H795M0 327.5H18M800 327.5H782M0 334.5H5M800 334.5H795M0 341.5H5M800 341.5H795M0 349.5H5M800 349.5H795M0 356.5H5M800 356.5H795M0 363.5H9M800 363.5H791M0 370.5H5M800 370.5H795M0 378.5H5M800 378.5H795M0 385.5H5M800 385.5H795M0 392.5H5M800 392.5H795M0 399.5H18M800 399.5H782M0 407.5H5M800 407.5H795M0 414.5H5M800 414.5H795M0 421.5H5M800 421.5H795M0 429.5H5M800 429.5H795M0 436.5H9M800 436.5H791M0 443.5H5M800 443.5H795M0 450.5H5M800 450.5H795M0 458.5H5M800 458.5H795M0 465.5H5M800 465.5H795M0 472.5H18M800 472.5H782M0 479.5H5M800 479.5H795M0 487.5H5M800 487.5H795M0 494.5H5M800 494.5H795M0 501.5H5M800 501.5H795M0 509.5H9M800 509.5H791M0 516.5H5M800 516.5H795M0 523.5H5M800 523.5H795M0 530.5H5M800 530.5H795M0 538.5H5M800 538.5H795M0 545.5H18M800 545.5H782M0 552.5H5M800 552.5H795M0 559.5H5M800 559.5H795M0 567.5H5M800 567.5H795M0 574.5H5M800 574.5H795M0 581.5H9M800 581.5H791M0 589.5H5M800 589.5H795M0 596.5H5M800 596.5H795M0 603.5H5M800 603.5H795M0 610.5H5M800 610.5H795M0 618.5H18M800 618.5H782M0 625.5H5M800 625.5H795M0 632.5H5M800 632.5H795M0 639.5H5M800 639.5H795M0 647.5H5M800 647.5H795M0 654.5H9M800 654.5H791M0 661.5H5M800 661.5H795M0 669.5H5M800 669.5H795M0 676.5H5M800 676.5H795M0 683.5H5M800 683.5H795M0 690.5H18M800 690.5H782M0 698.5H5M800 698.5H795M0 705.5H5M800 705.5H795M0 712.5H5M800 712.5H795M0 719.5H5M800 719.5H795M0 727.5H9M800 727.5H791M0 734.5H5M800 734.5H795M0 741.5H5M800 741.5H795M0 749.5H5M800 749.5H795M0 756.5H5M800 756.5H795M0 763.5H18M800 763.5H782M0 770.5H5M800 770.5H795" fill="none" stroke="#000" stroke-width="1" shape-rendering="crispEdges"/>
<text class="g" x="792" y="104.2" text-anchor="end">32S</text>
<text class="g" x="792" y="177.0" text-anchor="end">33S</text>
<text class="g" x="792" y="249.7" text-anchor="end">34S</text>
<text class="g" x="792" y="322.4" text-anchor="end">35S</text>
<text class="g" x="792" y="395.2" text-anchor="end">36S</text>
<text class="g" x="792" y="467.9" text-anchor="end">37S</text>
<text class="g" x="792" y="540.6" text-anchor="end">38S</text>
<text class="g" x="792" y="613.3" text-anchor="end">39S</text>
<text class="g" x="792" y="686.1" text-anchor="end">40S</text>
<text class="g" x="792" y="758.8" text-anchor="end">41S</text>
<text class="g" transform="translate(13.2,744) rotate(90)" textLength="20.5" lengthAdjust="spacingAndGlyphs">61W</text>
<text class="g" transform="translate(85.9,744) rotate(90)" textLength="20.5" lengthAdjust="spacingAndGlyphs">60W</text>
<text class="g" transform="translate(158.7,744) rotate(90)" textLength="20.5" lengthAdjust="spacingAndGlyphs">59W</text>
<text class="g" transform="translate(231.4,744) rotate(90)" textLength="20.5" lengthAdjust="spacingAndGlyphs">58W</text>
<text class="g" transform="translate(304.2,744) rotate(90)" textLength="20.5" lengthAdjust="spacingAndGlyphs">57W</text>
<text class="g" transform="translate(376.9,744) rotate(90)" textLength="20.5" lengthAdjust="spacingAndGlyphs">56W</text>
<text class="g" transform="translate(449.6,744) rotate(90)" textLength="20.5" lengthAdjust="spacingAndGlyphs">55W</text>
<text class="g" transform="translate(522.4,744) rotate(90)" textLength="20.5" lengthAdjust="spacingAndGlyphs">54W</text>
<text class="g" transform="translate(595.1,744) rotate(90)" textLength="20.5" lengthAdjust="spacingAndGlyphs">53W</text>
<text class="g" transform="translate(667.9,744) rotate(90)" textLength="20.5" lengthAdjust="spacingAndGlyphs">52W</text>
<text class="g" transform="translate(740.6,744) rotate(90)" textLength="20.5" lengthAdjust="spacingAndGlyphs">51W</text>
<defs><linearGradient id="cb" x1="0" y1="1" x2="0" y2="0">
<stop offset="0.0000" stop-color="#0000ff"/>
<stop offset="0.2667" stop-color="#00ffff"/>
<stop offset="0.4000" stop-color="#00f600"/>
<stop offset="0.5333" stop-color="#ffff00"/>
<stop offset="0.8333" stop-color="#ff0000"/>
<stop offset="1.0000" stop-color="#c00080"/>
</linearGradient></defs>
<rect x="32.5" y="160.5" width="48" height="607" fill="#fff" stroke="#000" stroke-width="1" shape-rendering="crispEdges"/>
<rect x="34" y="162" width="45" height="604" fill="url(#cb)"/>
<text class="k" x="86.5" y="164.9">30</text>
<text class="k" x="86.5" y="316.8">22</text>
<text class="k" x="86.5" y="468.7">15</text>
<text class="k" x="86.5" y="620.6">8</text>
<text class="k" x="86.5" y="772.5">0</text>
<text class="k" style="font-size:17px" x="34.5" y="148.5" textLength="43" lengthAdjust="spacingAndGlyphs">[m/s]</text>
<text class="t" x="5.5" y="49.5" textLength="384" lengthAdjust="spacingAndGlyphs">modelo GEFS-WAVE (NCEP)</text>
<text class="t" x="5.5" y="72.5" textLength="495" lengthAdjust="spacingAndGlyphs">forecast date: 2024-04-29 18:00:00</text>
<text class="t" x="42" y="95" textLength="446" lengthAdjust="spacingAndGlyphs">valid date: 2024-05-02 15:00:00</text>
</svg></body></html>
